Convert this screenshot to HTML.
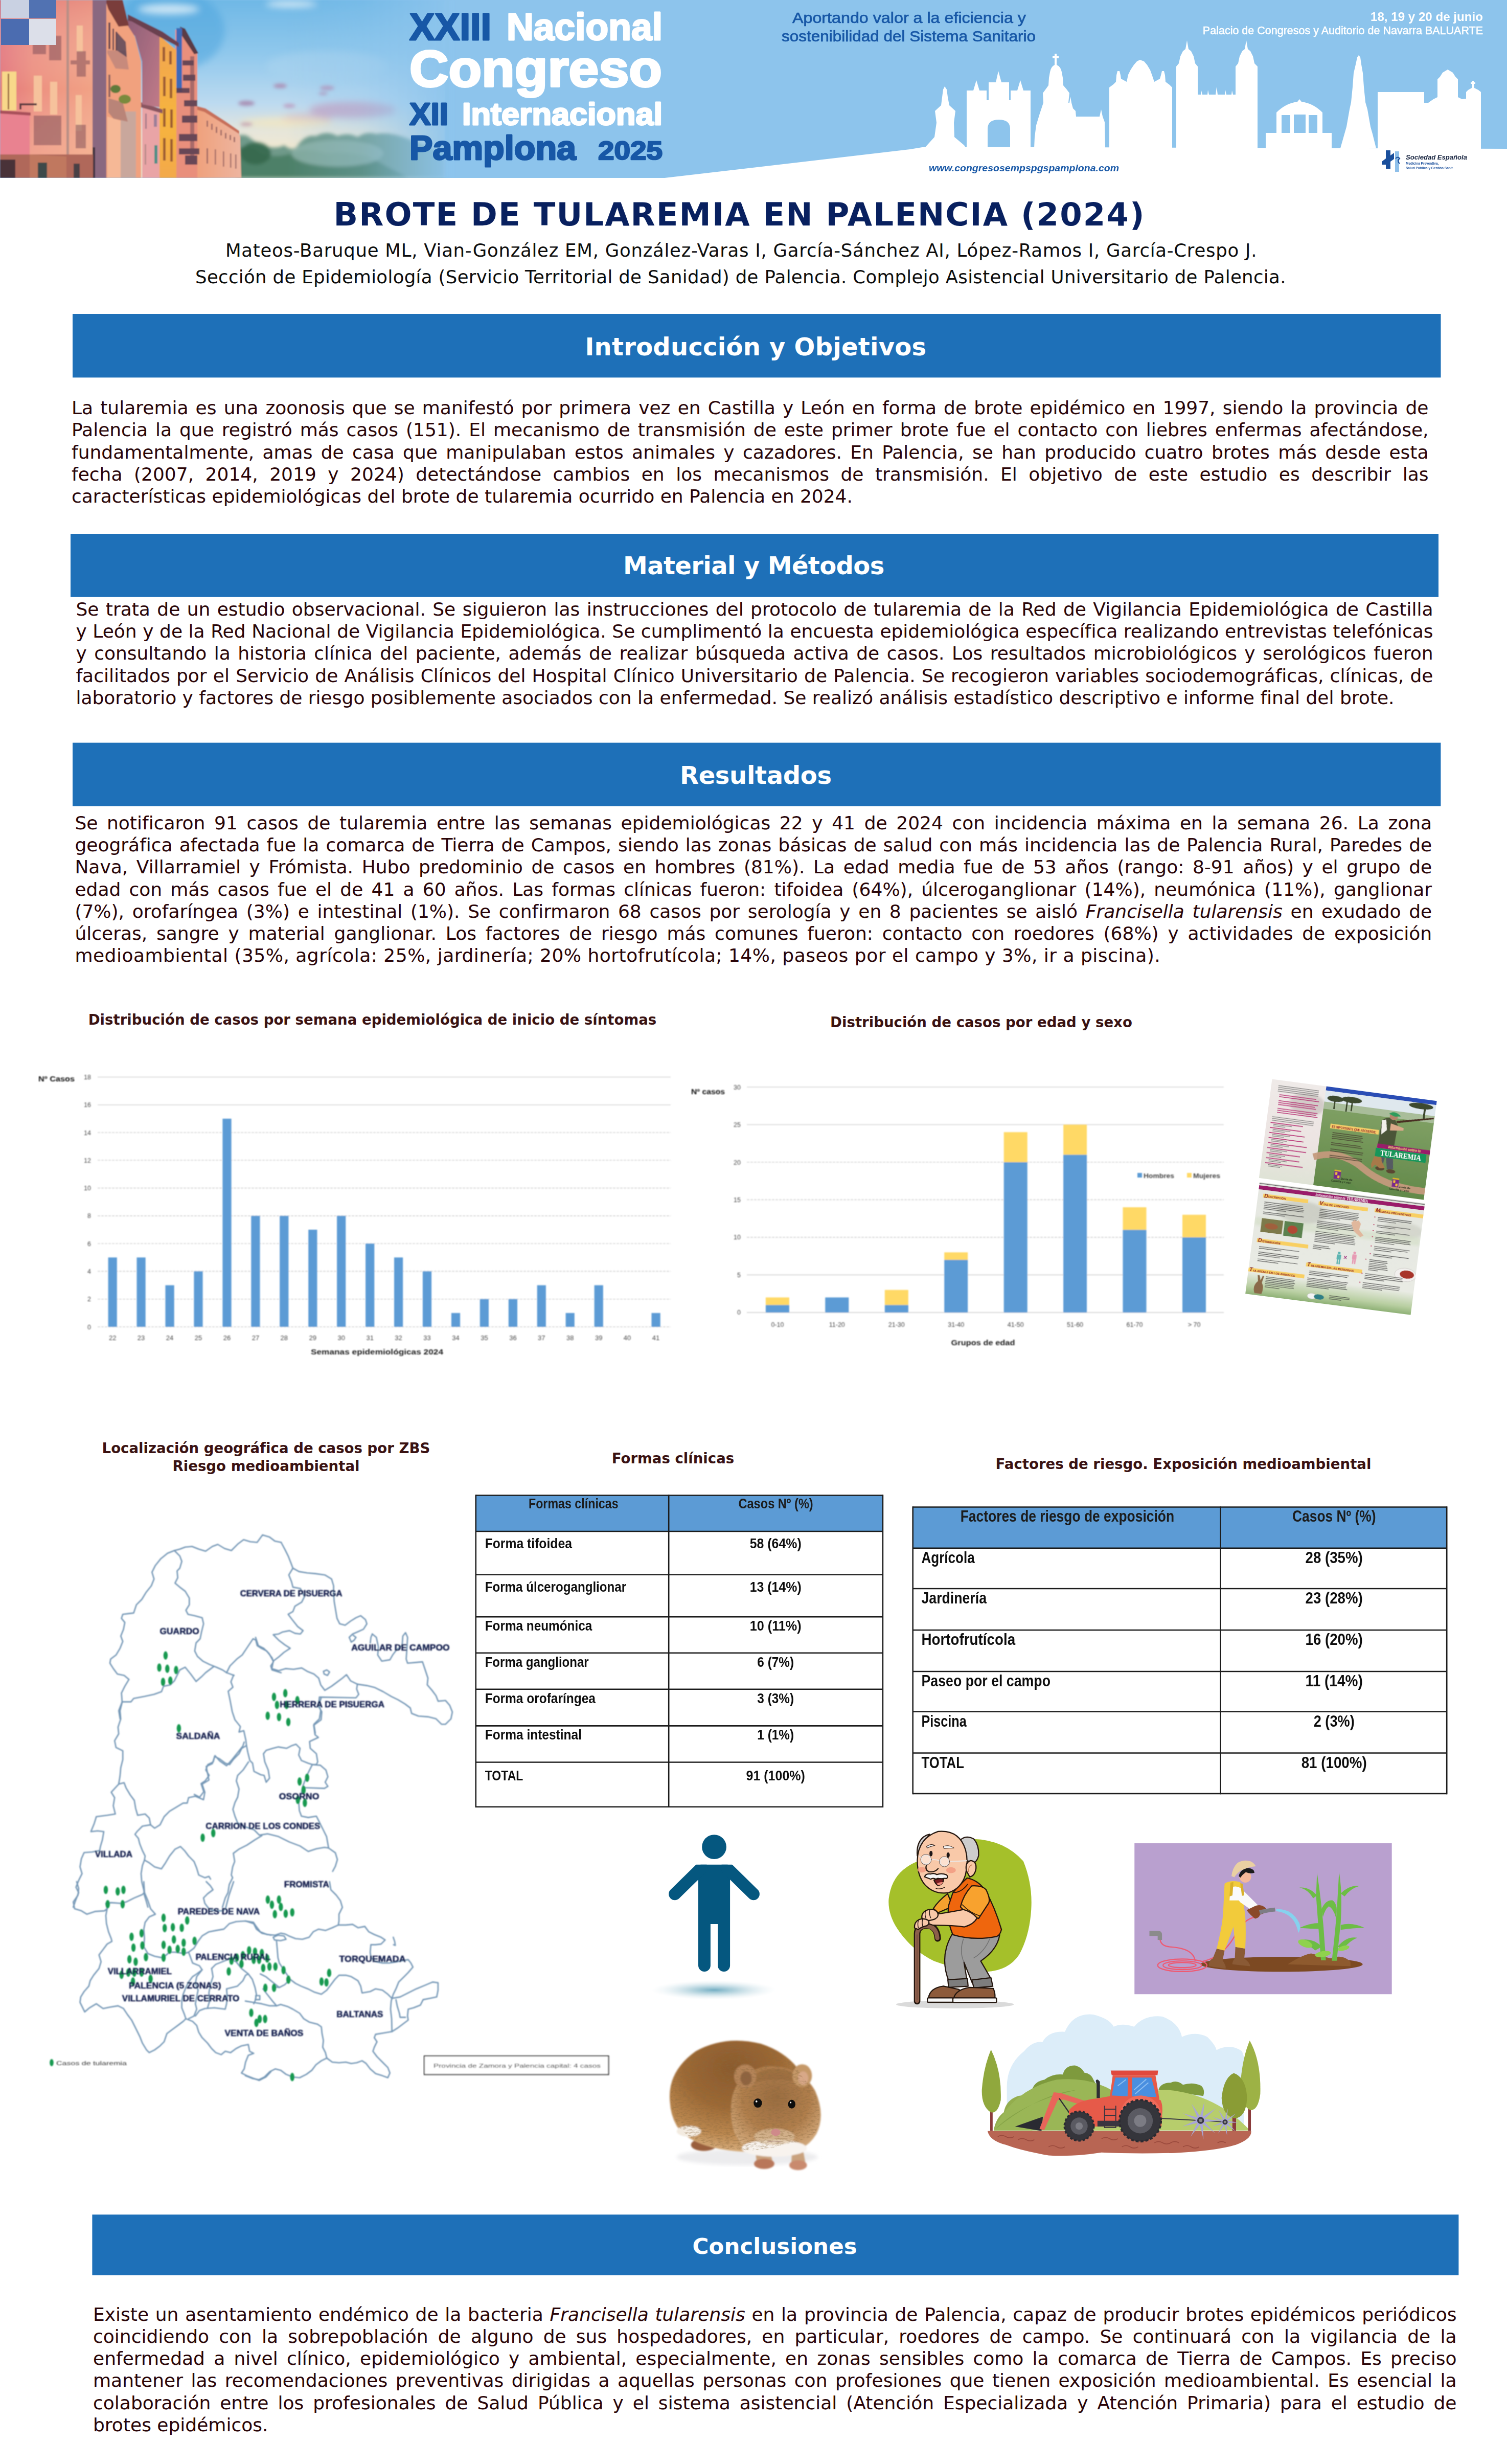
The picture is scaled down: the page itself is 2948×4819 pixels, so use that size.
<!DOCTYPE html><html lang="es"><head><meta charset="utf-8"><title>Brote de tularemia en Palencia (2024)</title><style>
html,body{margin:0;padding:0;background:#fff;}
body{width:2948px;height:4819px;position:relative;overflow:hidden;font-family:"DejaVu Sans","Liberation Sans",sans-serif;color:#2a0508;}
.abs{position:absolute;}
.bar{position:absolute;background:#1e70b8;color:#fff;font-weight:bold;text-align:center;font-size:45px;}
.bar span{position:absolute;left:0;right:0;text-align:center;white-space:nowrap;}
.ln{position:absolute;white-space:nowrap;font-size:36px;line-height:44px;height:44px;text-align:justify;text-align-last:justify;}
.ln.last{text-align:left;text-align-last:left;}
.ct{position:absolute;white-space:nowrap;font-weight:bold;font-size:28px;text-align:center;color:#3a1212;}
</style></head><body>
<svg class="abs" style="left:0;top:0;" width="2948" height="348" viewBox="0 0 2948 348">
<defs>
<linearGradient id="sky" x1="0" y1="0" x2="0" y2="1">
<stop offset="0" stop-color="#6fb8e6"/><stop offset="0.3" stop-color="#90c8ec"/><stop offset="0.58" stop-color="#bcdaf0"/><stop offset="0.74" stop-color="#e6e6dc"/><stop offset="0.86" stop-color="#f3e8cc"/><stop offset="1" stop-color="#e8e4d0"/>
</linearGradient>
<linearGradient id="fade" x1="0" y1="0" x2="1" y2="0">
<stop offset="0" stop-color="#8dc4ec" stop-opacity="0"/><stop offset="0.45" stop-color="#8dc4ec" stop-opacity="0.25"/><stop offset="1" stop-color="#8dc4ec" stop-opacity="1"/>
</linearGradient>
<linearGradient id="b1" x1="0" y1="0" x2="1" y2="0">
<stop offset="0" stop-color="#e2757c"/><stop offset="0.35" stop-color="#ec8f80"/><stop offset="1" stop-color="#f2a285"/>
</linearGradient>
<linearGradient id="b1v" x1="0" y1="0" x2="0" y2="1">
<stop offset="0" stop-color="#d8707c" stop-opacity="0.35"/><stop offset="0.5" stop-color="#fff" stop-opacity="0"/><stop offset="1" stop-color="#fbd0a0" stop-opacity="0.35"/>
</linearGradient>
<linearGradient id="b3" x1="0" y1="0" x2="1" y2="1">
<stop offset="0" stop-color="#8e5e78"/><stop offset="1" stop-color="#c07a88"/>
</linearGradient>
<linearGradient id="b4" x1="0" y1="0" x2="0" y2="1">
<stop offset="0" stop-color="#f2a552"/><stop offset="0.6" stop-color="#f6b43e"/><stop offset="1" stop-color="#f3a94a"/>
</linearGradient>
<linearGradient id="b6" x1="0" y1="0" x2="1" y2="0">
<stop offset="0" stop-color="#f0a07a"/><stop offset="1" stop-color="#eeb5a0"/>
</linearGradient>
<filter id="bl" x="-2%" y="-2%" width="104%" height="104%"><feGaussianBlur stdDeviation="1.1"/></filter>
<filter id="bl6" x="-20%" y="-20%" width="140%" height="140%"><feGaussianBlur stdDeviation="7"/></filter>
<filter id="bl3" x="-20%" y="-20%" width="140%" height="140%"><feGaussianBlur stdDeviation="3"/></filter>
<clipPath id="bclip"><rect x="0" y="0" width="2948" height="348"/></clipPath>
</defs>
<g clip-path="url(#bclip)">
<rect x="0" y="0" width="2948" height="348" fill="#8dc4ec"/>
<!-- photo -->
<g filter="url(#bl)">
<rect x="230" y="0" width="640" height="348" fill="url(#sky)"/>
<ellipse cx="330" cy="60" rx="110" ry="80" fill="#4fa6de" opacity="0.55" filter="url(#bl6)"/>
<!-- clouds -->
<g filter="url(#bl6)">
<ellipse cx="330" cy="18" rx="60" ry="10" fill="#d6ebf7" opacity="0.9"/>
<ellipse cx="570" cy="8" rx="50" ry="6" fill="#e6f2fa" opacity="0.9"/>
<ellipse cx="690" cy="215" rx="85" ry="16" fill="#c4a6c6" opacity="0.85"/>
<ellipse cx="600" cy="232" rx="50" ry="9" fill="#d2b0c4" opacity="0.8"/>
<ellipse cx="560" cy="240" rx="90" ry="10" fill="#f3e6bf" opacity="0.8"/>
<ellipse cx="640" cy="130" rx="120" ry="30" fill="#a9d2ef" opacity="0.6"/>
</g>
<g filter="url(#bl3)">
<ellipse cx="482" cy="202" rx="16" ry="5" fill="#a890b4"/>
<ellipse cx="548" cy="168" rx="13" ry="4.5" fill="#ab93b8"/>
<ellipse cx="640" cy="172" rx="14" ry="4.5" fill="#b39cc0"/>
<ellipse cx="632" cy="183" rx="9" ry="3" fill="#b39cc0"/>
<ellipse cx="566" cy="207" rx="12" ry="4" fill="#bca4c6"/>
<ellipse cx="482" cy="243" rx="12" ry="3.5" fill="#c7a9b4"/>
</g>
<!-- trees -->
<g filter="url(#bl3)">
<path d="M462,348 L462,268 Q478,258 492,272 Q505,282 520,286 Q540,292 556,284 Q570,296 580,288 Q596,262 618,266 Q640,254 660,266 Q680,258 700,268 Q716,256 736,262 Q760,258 790,268 L870,300 L870,348 Z" fill="#6f9a8a"/>
<path d="M462,348 L462,290 Q490,280 510,300 Q540,310 570,300 Q600,288 640,300 Q680,296 720,306 L800,348 Z" fill="#4d8068"/>
<ellipse cx="660" cy="300" rx="90" ry="26" fill="#8fb2a8" opacity="0.8"/>
<ellipse cx="500" cy="300" rx="30" ry="22" fill="#35684c" opacity="0.9"/>
</g>
<rect x="560" y="0" width="330" height="348" fill="url(#fade)"/>
<!-- long low building -->
<path d="M380,208 L400,214 L440,240 L466,258 L470,268 L472,348 L380,348 Z" fill="url(#b6)"/>
<path d="M380,206 L402,212 L442,238 L468,256 L468,262 L440,244 L400,219 L380,213 Z" fill="#c7705a"/>
<g fill="#8b5a5c" opacity="0.75">
<rect x="404" y="236" width="3" height="12"/><rect x="413" y="242" width="3" height="12"/><rect x="422" y="248" width="3" height="12"/><rect x="431" y="254" width="3" height="11"/><rect x="440" y="260" width="3" height="11"/><rect x="449" y="264" width="3" height="10"/><rect x="457" y="268" width="3" height="10"/>
<rect x="404" y="290" width="3" height="30"/><rect x="420" y="292" width="2.5" height="30"/><rect x="436" y="296" width="2.5" height="30"/><rect x="450" y="300" width="2.5" height="28"/><rect x="460" y="302" width="2.5" height="28"/>
</g>
<!-- building 5 (salmon w/ balconies) -->
<path d="M343,58 L360,60 L386,104 L386,348 L343,348 Z" fill="#e98f7c"/>
<path d="M352,52 L362,56 L388,104 L380,106 L356,70 Z" fill="#5a3a44"/>
<rect x="345" y="55" width="11" height="125" fill="#3c6ab8"/>
<g fill="#5b3f52" opacity="0.9">
<rect x="357" y="118" width="22" height="10"/><rect x="358" y="146" width="24" height="12"/><rect x="345" y="172" width="26" height="10"/><rect x="360" y="196" width="26" height="12"/><rect x="356" y="226" width="30" height="14"/><rect x="350" y="262" width="36" height="14"/><rect x="350" y="290" width="40" height="12"/><rect x="362" y="304" width="24" height="18"/>
<rect x="372" y="110" width="8" height="200" opacity="0.5"/>
</g>
<!-- building 4 (yellow) -->
<path d="M312,70 L345,98 L345,348 L312,348 Z" fill="url(#b4)"/>
<g fill="#8a4a30" opacity="0.8">
<rect x="318" y="92" width="5" height="28"/><rect x="331" y="100" width="5" height="26"/>
<rect x="319" y="150" width="5" height="38"/><rect x="332" y="154" width="5" height="38"/>
<rect x="319" y="212" width="5" height="36"/><rect x="333" y="214" width="5" height="36"/>
<rect x="319" y="270" width="5" height="44"/><rect x="333" y="272" width="5" height="44"/>
</g>
<!-- building 3b: pale lower house -->
<path d="M278,205 L312,212 L312,348 L278,348 Z" fill="#e9a4a6"/>
<path d="M276,200 L318,214 L318,222 L276,210 Z" fill="#8a5560"/>
<rect x="301" y="224" width="6" height="24" fill="#9c7f98"/><rect x="284" y="222" width="3" height="30" fill="#a47a8a"/>
<rect x="302" y="284" width="6" height="36" fill="#4e8f86"/><rect x="283" y="282" width="3" height="40" fill="#b98a8a"/>
<!-- building 3 (mauve wall) -->
<path d="M250,30 L262,36 L312,66 L312,210 L278,204 L278,120 L264,70 L250,60 Z" fill="url(#b3)"/>
<path d="M250,28 L318,62 L350,84 L350,92 L312,72 L258,42 L250,40 Z" fill="#6a4050"/>
<!-- building 2 -->
<path d="M208,0 L232,0 L250,50 L264,72 L276,120 L276,348 L208,348 Z" fill="#f1a17e"/>
<path d="M206,0 L240,0 L252,50 L232,52 L212,18 Z" fill="#7a3e3a"/>
<path d="M236,218 L266,218 L266,348 L236,348 Z" fill="#c9a79c"/>
<path d="M210,228 L236,236 L236,348 L210,348 Z" fill="#f6b896"/>
<g fill="#6b4a55">
<rect x="212" y="44" width="4" height="52" /><rect x="220" y="56" width="3" height="42"/><rect x="226" y="62" width="3" height="38"/>
<path d="M210,98 L246,100 L252,136 L226,134 L210,104 Z" fill="#c78a7c"/>
<path d="M228,62 L246,82 L248,112 L228,98 Z" fill="#5a4658" opacity="0.85"/>
<path d="M212,192 L240,200 L250,238 L222,232 L212,220 Z" fill="#b98478"/>
<rect x="212" y="146" width="4" height="44" opacity="0.7"/>
</g>
<ellipse cx="226" cy="174" rx="10" ry="8" fill="#5e7a3a"/><ellipse cx="244" cy="194" rx="12" ry="9" fill="#7a8a3e"/>
<!-- dark strip -->
<rect x="180" y="0" width="28" height="348" fill="#8a6880"/>
<rect x="180" y="288" width="6" height="60" fill="#3e3340"/>
<!-- building 1 -->
<rect x="0" y="0" width="181" height="348" fill="url(#b1)"/>
<rect x="0" y="0" width="181" height="348" fill="url(#b1v)"/>
<rect x="130" y="0" width="5" height="348" fill="#b98f86"/>
<path d="M0,302 L182,302 L182,348 L0,348 Z" fill="#b0685a"/>
<path d="M58,302 L130,306 L130,348 L58,348 Z" fill="#c0785e"/>
<rect x="0" y="312" width="30" height="36" fill="#4a3238"/><rect x="74" y="318" width="18" height="30" fill="#3e4a48"/><rect x="144" y="320" width="12" height="28" fill="#4a4044"/>
<g fill="#f6c29c">
<rect x="66" y="148" width="16" height="70"/><rect x="98" y="160" width="14" height="64"/><rect x="148" y="186" width="12" height="70"/><rect x="150" y="50" width="12" height="52"/>
</g>
<g fill="#7a4a55" opacity="0.5">
<rect x="66" y="226" width="54" height="58"/><rect x="148" y="244" width="20" height="46"/><rect x="64" y="84" width="26" height="22"/><rect x="96" y="70" width="24" height="48"/><rect x="150" y="100" width="18" height="50"/>
<rect x="138" y="118" width="38" height="8"/>
</g>
<rect x="4" y="140" width="28" height="76" fill="#f8d88a"/><rect x="15" y="144" width="3" height="70" fill="#9a6a40"/>
<path d="M0,218 L58,222 L58,302 L0,302 Z" fill="#e98290"/>
<path d="M0,216 L60,220 L60,226 L0,222 Z" fill="#a8505a"/>
<path d="M38,202 L72,202 L72,206 L42,206 L42,214 L38,214 Z" fill="#5a3a40"/>
</g>
<!-- checker -->
<rect x="2" y="0" width="55" height="36" fill="#c9d1e2"/><rect x="57" y="0" width="53" height="36" fill="#5172b2"/>
<rect x="2" y="37" width="55" height="51" fill="#4b6cb0"/><rect x="57" y="37" width="53" height="51" fill="#dcdfe9"/>
<!-- white wedge + skyline -->
<path d="M1300,348 L1780,292 L1810,287 L2948,291 L2948,348 Z" fill="#fff"/>
<g fill="#fff">
<!-- monument 1 -->
<path d="M1808,290 L1828,268 L1832,240 L1829,217 L1841,206 L1843,190 L1845,175 L1848,169 L1852,175 L1854,190 L1857,206 L1869,217 L1866,240 L1867,268 L1886,284 L1890,290 Z"/>
<!-- gate -->
<path d="M1891,290 L1891,177 L1904,177 L1910,157 L1916,177 L1930,177 L1930,196 L1934,196 L1934,161 L1948,161 L1953,139 L1959,161 L1974,161 L1974,196 L1977,196 L1977,177 L1990,177 L1996,157 L2002,177 L2016,177 L2016,290 L1976,290 L1976,252 Q1976,234 1954,234 Q1932,234 1932,252 L1932,290 Z"/>
<!-- church -->
<path d="M2023,290 L2024,268 L2027,245 L2034,222 L2041,201 L2040,182 L2046,174 L2051,167 L2052,152 L2054,141 Q2056,130 2063,127 L2063,114 L2059,114 L2059,110 L2063,110 L2063,105 L2067,105 L2067,110 L2071,110 L2071,114 L2067,114 L2067,127 Q2075,130 2077,141 L2079,152 L2080,167 L2086,174 L2092,182 L2090,201 L2092,201 L2094,189 L2096,201 L2099,212 L2104,217 L2105,228 L2151,228 L2154,214 L2157,228 L2161,239 L2162,290 Z"/>
<!-- facade -->
<path d="M2170,290 L2170,171 L2178,165 L2183,160 L2184,147 L2186,139 L2190,139 L2192,147 L2193,154 L2204,160 L2207,146 L2212,136 L2218,127 L2224,120 L2230,117 L2238,120 L2244,127 L2250,137 L2254,148 L2258,160 L2269,154 L2271,147 L2273,139 L2277,139 L2279,147 L2280,160 L2288,166 L2293,171 L2293,290 Z"/>
<!-- cathedral -->
<path d="M2301,290 L2301,130 L2306,124 L2309,110 L2314,100 L2319,96 L2322,79 L2325,96 L2330,100 L2335,110 L2338,124 L2343,130 L2343,185 L2349,185 L2350,177 L2352,185 L2362,185 L2363,176 L2365,185 L2378,185 L2380,170 L2382,185 L2396,185 L2397,176 L2399,185 L2409,185 L2410,177 L2412,185 L2417,185 L2417,130 L2422,124 L2425,110 L2430,100 L2435,96 L2438,79 L2441,96 L2446,100 L2451,110 L2454,124 L2460,130 L2460,290 Z"/>
<!-- kiosk -->
<path d="M2476,290 L2476,260 L2497,260 L2497,220 Q2515,202 2538,199 L2542,194 L2546,199 Q2569,202 2587,220 L2587,260 L2605,260 L2605,290 Z"/>
<!-- column monument -->
<path d="M2622,290 L2630,262 L2634,248 L2640,214 L2643,200 L2646,170 L2648,143 L2652,126 L2655,112 L2658,108 L2661,112 L2663,126 L2666,143 L2668,170 L2671,200 L2675,214 L2681,248 L2685,262 L2692,290 Z"/>
<!-- right building -->
<path d="M2695,292 L2695,180 L2786,180 L2786,201 L2794,201 L2804,194 L2812,190 L2812,155 L2817,150 L2822,142 L2832,136 L2842,142 L2847,150 L2852,155 L2852,190 L2860,194 L2868,193 L2868,180 L2872,176 L2879,172 L2880,164 L2877,164 L2877,161 L2880,161 L2880,158 L2883,158 L2883,161 L2886,161 L2886,164 L2883,164 L2884,172 L2892,176 L2897,180 L2897,292 Z"/>
</g>
<g fill="#8dc4ec">
<rect x="2507" y="225" width="17" height="35"/><rect x="2531" y="224" width="23" height="36"/><rect x="2560" y="225" width="17" height="35"/>
</g>
<!-- banner text -->
<g font-family="'Liberation Sans',sans-serif" font-weight="bold" stroke-linejoin="round" stroke-linecap="round" paint-order="stroke">
<text x="801" y="78" font-size="75" fill="#1757a6" stroke="#1757a6" stroke-width="3" textLength="160" lengthAdjust="spacingAndGlyphs">XXIII</text>
<text x="991" y="78" font-size="75" fill="#fff" stroke="#fff" stroke-width="3" textLength="305" lengthAdjust="spacingAndGlyphs">Nacional</text>
<text x="801" y="169" font-size="101" fill="#fff" stroke="#fff" stroke-width="4" textLength="494" lengthAdjust="spacingAndGlyphs">Congreso</text>
<text x="801" y="244" font-size="62" fill="#1757a6" stroke="#1757a6" stroke-width="3" textLength="76" lengthAdjust="spacingAndGlyphs">XII</text>
<text x="904" y="244" font-size="62" fill="#fff" stroke="#fff" stroke-width="3" textLength="392" lengthAdjust="spacingAndGlyphs">Internacional</text>
<text x="801" y="312" font-size="66" fill="#1757a6" stroke="#1757a6" stroke-width="3" textLength="326" lengthAdjust="spacingAndGlyphs">Pamplona</text>
<text x="1170" y="312" font-size="50" fill="#1757a6" stroke="#1757a6" stroke-width="2.5" textLength="126" lengthAdjust="spacingAndGlyphs">2025</text>
</g>
<g font-family="'Liberation Sans',sans-serif" fill="#1757a6">
<text x="1550" y="45" font-size="29" stroke="#1757a6" stroke-width="0.7" textLength="457" lengthAdjust="spacingAndGlyphs">Aportando valor a la eficiencia y</text>
<text x="1529" y="81" font-size="29" stroke="#1757a6" stroke-width="0.7" textLength="497" lengthAdjust="spacingAndGlyphs">sostenibilidad del Sistema Sanitario</text>
<text x="1817" y="335" font-size="19" font-weight="bold" font-style="italic" textLength="372" lengthAdjust="spacingAndGlyphs">www.congresosempspgspamplona.com</text>
</g>
<g font-family="'Liberation Sans',sans-serif" fill="#fff" text-anchor="end">
<text x="2901" y="41" font-size="24.5" font-weight="bold" textLength="220" lengthAdjust="spacingAndGlyphs">18, 19 y 20 de junio</text>
<text x="2901" y="67" font-size="21.5" stroke="#fff" stroke-width="0.5">Palacio de Congresos y Auditorio de Navarra BALUARTE</text>
</g>
<!-- SEMPSPGS logo -->
<g>
<path d="M2703,316 l8,-6 l0,-16 l9,0 l0,10 l7,-5 l0,12 l-7,5 l0,14 l-9,0 l0,-8 l-8,0 Z" fill="#1a4f9c"/>
<rect x="2729" y="296" width="8" height="40" fill="#8fc0ea"/>
<path d="M2730,310 q5,-5 8,0 q-6,4 0,10" stroke="#1a4f9c" stroke-width="2.2" fill="none"/>
<text x="2750" y="312" font-family="'Liberation Sans',sans-serif" font-size="12.5" font-weight="bold" font-style="italic" fill="#16233f" textLength="120" lengthAdjust="spacingAndGlyphs">Sociedad Española</text>
<text x="2750" y="322" font-family="'Liberation Sans',sans-serif" font-size="6.5" font-weight="bold" fill="#1a4f9c">Medicina Preventiva,</text>
<text x="2750" y="331" font-family="'Liberation Sans',sans-serif" font-size="6.5" font-weight="bold" fill="#1a4f9c">Salud Pública y Gestión Sanit.</text>
</g>

</g>
</svg>

<div class="abs" style="left:652.5px;top:381.7px;font-size:62.5px;line-height:75.00px;letter-spacing:2.093px;white-space:nowrap;color:#08205f;font-weight:bold;">BROTE DE TULAREMIA EN PALENCIA (2024)</div>
<div class="abs" style="left:441.0px;top:469.4px;font-size:35.5px;line-height:42.60px;letter-spacing:0.739px;white-space:nowrap;color:#0d0d0d;">Mateos-Baruque ML, Vian-González EM, González-Varas I, García-Sánchez AI, López-Ramos I, García-Crespo J.</div>
<div class="abs" style="left:382.0px;top:521.3px;font-size:35.5px;line-height:42.60px;letter-spacing:0.349px;white-space:nowrap;color:#0d0d0d;">Sección de Epidemiología (Servicio Territorial de Sanidad) de Palencia. Complejo Asistencial Universitario de Palencia.</div>
<svg class="abs" style="left:141px;top:613px;" width="2680" height="128"><rect x="1.00" y="1.00" width="2676.5" height="124.4" fill="#1e70b8"/></svg>
<div class="abs" style="left:1144.5px;top:650.1px;font-size:48px;line-height:57.60px;letter-spacing:0.247px;white-space:nowrap;color:#fff;font-weight:bold;">Introducción y Objetivos</div>
<div class="ln" style="left:140px;top:776.0px;width:2654.5px;">La tularemia es una zoonosis que se manifestó por primera vez en Castilla y León en forma de brote epidémico en 1997, siendo la provincia de</div>
<div class="ln" style="left:140px;top:819.4px;width:2654.5px;">Palencia la que registró más casos (151). El mecanismo de transmisión de este primer brote fue el contacto con liebres enfermas afectándose,</div>
<div class="ln" style="left:140px;top:862.7px;width:2654.5px;">fundamentalmente, amas de casa que manipulaban estos animales y cazadores. En Palencia, se han producido cuatro brotes más desde esta</div>
<div class="ln" style="left:140px;top:906.0px;width:2654.5px;">fecha (2007, 2014, 2019 y 2024) detectándose cambios en los mecanismos de transmisión. El objetivo de este estudio es describir las</div>
<div class="ln last" style="left:140px;top:949.4px;width:2654.5px;">características epidemiológicas del brote de tularemia ocurrido en Palencia en 2024.</div>
<svg class="abs" style="left:137px;top:1043px;" width="2680" height="127"><rect x="1.00" y="1.00" width="2676" height="123.6" fill="#1e70b8"/></svg>
<div class="abs" style="left:1219.0px;top:1078.2px;font-size:48px;line-height:57.60px;letter-spacing:-0.600px;white-space:nowrap;color:#fff;font-weight:bold;">Material y Métodos</div>
<div class="ln" style="left:148.4px;top:1169.8px;width:2655.1px;">Se trata de un estudio observacional. Se siguieron las instrucciones del protocolo de tularemia de la Red de Vigilancia Epidemiológica de Castilla</div>
<div class="ln" style="left:148.4px;top:1213.0px;width:2655.1px;letter-spacing:-0.038px;">y León y de la Red Nacional de Vigilancia Epidemiológica. Se cumplimentó la encuesta epidemiológica específica realizando entrevistas telefónicas</div>
<div class="ln" style="left:148.4px;top:1256.3px;width:2655.1px;">y consultando la historia clínica del paciente, además de realizar búsqueda activa de casos. Los resultados microbiológicos y serológicos fueron</div>
<div class="ln" style="left:148.4px;top:1299.7px;width:2655.1px;">facilitados por el Servicio de Análisis Clínicos del Hospital Clínico Universitario de Palencia. Se recogieron variables sociodemográficas, clínicas, de</div>
<div class="ln last" style="left:148.4px;top:1343.0px;width:2655.1px;">laboratorio y factores de riesgo posiblemente asociados con la enfermedad. Se realizó análisis estadístico descriptivo e informe final del brote.</div>
<svg class="abs" style="left:141px;top:1451px;" width="2680" height="128"><rect x="1.00" y="1.60" width="2676.4" height="124" fill="#1e70b8"/></svg>
<div class="abs" style="left:1330.0px;top:1487.5px;font-size:48px;line-height:57.60px;letter-spacing:-0.329px;white-space:nowrap;color:#fff;font-weight:bold;">Resultados</div>
<div class="ln" style="left:146.4px;top:1587.7px;width:2654.7999999999997px;">Se notificaron 91 casos de tularemia entre las semanas epidemiológicas 22 y 41 de 2024 con incidencia máxima en la semana 26. La zona</div>
<div class="ln" style="left:146.4px;top:1631.0px;width:2654.7999999999997px;">geográfica afectada fue la comarca de Tierra de Campos, siendo las zonas básicas de salud con más incidencia las de Palencia Rural, Paredes de</div>
<div class="ln" style="left:146.4px;top:1674.2px;width:2654.7999999999997px;">Nava, Villarramiel y Frómista. Hubo predominio de casos en hombres (81%). La edad media fue de 53 años (rango: 8-91 años) y el grupo de</div>
<div class="ln" style="left:146.4px;top:1717.5px;width:2654.7999999999997px;">edad con más casos fue el de 41 a 60 años. Las formas clínicas fueron: tifoidea (64%), úlceroganglionar (14%), neumónica (11%), ganglionar</div>
<div class="ln" style="left:146.4px;top:1760.7px;width:2654.7999999999997px;">(7%), orofaríngea (3%) e intestinal (1%). Se confirmaron 68 casos por serología y en 8 pacientes se aisló <i>Francisella tularensis</i> en exudado de</div>
<div class="ln" style="left:146.4px;top:1804.0px;width:2654.7999999999997px;">úlceras, sangre y material ganglionar. Los factores de riesgo más comunes fueron: contacto con roedores (68%) y actividades de exposición</div>
<div class="ln last" style="left:146.4px;top:1847.2px;width:2654.7999999999997px;"><span style="letter-spacing:0.49px">medioambiental (35%, agrícola: 25%, jardinería; 20% hortofrutícola; 14%, paseos por el campo y 3%, ir a piscina).</span></div>
<div class="ct" style="left:172px;top:1975.4px;width:1113px;font-size:27.6px;line-height:40px;">Distribución de casos por semana epidemiológica de inicio de síntomas</div>
<div class="ct" style="left:1624px;top:1980.4px;width:591px;font-size:27.6px;line-height:40px;">Distribución de casos por edad y sexo</div>
<svg class="abs" style="left:40px;top:2060px;" width="1300" height="620" viewBox="40 2060 1300 620">
<defs><filter id="cb" x="-1%" y="-1%" width="102%" height="102%"><feGaussianBlur stdDeviation="0.9"/></filter></defs>
<g filter="url(#cb)">
<line x1="191" y1="2595.0" x2="1312" y2="2595.0" stroke="#d4d4d4" stroke-width="1.6" stroke-dasharray="5 2"/>
<text x="178" y="2599.5" text-anchor="end" font-size="12.5" fill="#484848" style="font-family:'Liberation Sans',sans-serif;">0</text>
<line x1="191" y1="2540.7" x2="1312" y2="2540.7" stroke="#d4d4d4" stroke-width="1.6" stroke-dasharray="5 2"/>
<text x="178" y="2545.2" text-anchor="end" font-size="12.5" fill="#484848" style="font-family:'Liberation Sans',sans-serif;">2</text>
<line x1="191" y1="2486.4" x2="1312" y2="2486.4" stroke="#d4d4d4" stroke-width="1.6" stroke-dasharray="5 2"/>
<text x="178" y="2490.9" text-anchor="end" font-size="12.5" fill="#484848" style="font-family:'Liberation Sans',sans-serif;">4</text>
<line x1="191" y1="2432.2" x2="1312" y2="2432.2" stroke="#d4d4d4" stroke-width="1.6" stroke-dasharray="5 2"/>
<text x="178" y="2436.7" text-anchor="end" font-size="12.5" fill="#484848" style="font-family:'Liberation Sans',sans-serif;">6</text>
<line x1="191" y1="2377.9" x2="1312" y2="2377.9" stroke="#d4d4d4" stroke-width="1.6" stroke-dasharray="5 2"/>
<text x="178" y="2382.4" text-anchor="end" font-size="12.5" fill="#484848" style="font-family:'Liberation Sans',sans-serif;">8</text>
<line x1="191" y1="2323.6" x2="1312" y2="2323.6" stroke="#d4d4d4" stroke-width="1.6" stroke-dasharray="5 2"/>
<text x="178" y="2328.1" text-anchor="end" font-size="12.5" fill="#484848" style="font-family:'Liberation Sans',sans-serif;">10</text>
<line x1="191" y1="2269.3" x2="1312" y2="2269.3" stroke="#d4d4d4" stroke-width="1.6" stroke-dasharray="5 2"/>
<text x="178" y="2273.8" text-anchor="end" font-size="12.5" fill="#484848" style="font-family:'Liberation Sans',sans-serif;">12</text>
<line x1="191" y1="2215.0" x2="1312" y2="2215.0" stroke="#d4d4d4" stroke-width="1.6" stroke-dasharray="5 2"/>
<text x="178" y="2219.5" text-anchor="end" font-size="12.5" fill="#484848" style="font-family:'Liberation Sans',sans-serif;">14</text>
<line x1="191" y1="2160.8" x2="1312" y2="2160.8" stroke="#d4d4d4" stroke-width="1.6" />
<text x="178" y="2165.3" text-anchor="end" font-size="12.5" fill="#484848" style="font-family:'Liberation Sans',sans-serif;">16</text>
<line x1="191" y1="2106.5" x2="1312" y2="2106.5" stroke="#d4d4d4" stroke-width="1.6" />
<text x="178" y="2111.0" text-anchor="end" font-size="12.5" fill="#484848" style="font-family:'Liberation Sans',sans-serif;">18</text>
<rect x="211.6" y="2459.3" width="17.2" height="135.7" fill="#5b9bd5"/>
<text x="220.2" y="2621" text-anchor="middle" font-size="13" fill="#484848" style="font-family:'Liberation Sans',sans-serif;">22</text>
<rect x="267.5" y="2459.3" width="17.2" height="135.7" fill="#5b9bd5"/>
<text x="276.1" y="2621" text-anchor="middle" font-size="13" fill="#484848" style="font-family:'Liberation Sans',sans-serif;">23</text>
<rect x="323.5" y="2513.6" width="17.2" height="81.4" fill="#5b9bd5"/>
<text x="332.1" y="2621" text-anchor="middle" font-size="13" fill="#484848" style="font-family:'Liberation Sans',sans-serif;">24</text>
<rect x="379.4" y="2486.4" width="17.2" height="108.6" fill="#5b9bd5"/>
<text x="388.0" y="2621" text-anchor="middle" font-size="13" fill="#484848" style="font-family:'Liberation Sans',sans-serif;">25</text>
<rect x="435.4" y="2187.9" width="17.2" height="407.1" fill="#5b9bd5"/>
<text x="444.0" y="2621" text-anchor="middle" font-size="13" fill="#484848" style="font-family:'Liberation Sans',sans-serif;">26</text>
<rect x="491.3" y="2377.9" width="17.2" height="217.1" fill="#5b9bd5"/>
<text x="499.9" y="2621" text-anchor="middle" font-size="13" fill="#484848" style="font-family:'Liberation Sans',sans-serif;">27</text>
<rect x="547.2" y="2377.9" width="17.2" height="217.1" fill="#5b9bd5"/>
<text x="555.8" y="2621" text-anchor="middle" font-size="13" fill="#484848" style="font-family:'Liberation Sans',sans-serif;">28</text>
<rect x="603.2" y="2405.0" width="17.2" height="190.0" fill="#5b9bd5"/>
<text x="611.8" y="2621" text-anchor="middle" font-size="13" fill="#484848" style="font-family:'Liberation Sans',sans-serif;">29</text>
<rect x="659.1" y="2377.9" width="17.2" height="217.1" fill="#5b9bd5"/>
<text x="667.7" y="2621" text-anchor="middle" font-size="13" fill="#484848" style="font-family:'Liberation Sans',sans-serif;">30</text>
<rect x="715.1" y="2432.2" width="17.2" height="162.8" fill="#5b9bd5"/>
<text x="723.7" y="2621" text-anchor="middle" font-size="13" fill="#484848" style="font-family:'Liberation Sans',sans-serif;">31</text>
<rect x="771.0" y="2459.3" width="17.2" height="135.7" fill="#5b9bd5"/>
<text x="779.6" y="2621" text-anchor="middle" font-size="13" fill="#484848" style="font-family:'Liberation Sans',sans-serif;">32</text>
<rect x="826.9" y="2486.4" width="17.2" height="108.6" fill="#5b9bd5"/>
<text x="835.5" y="2621" text-anchor="middle" font-size="13" fill="#484848" style="font-family:'Liberation Sans',sans-serif;">33</text>
<rect x="882.9" y="2567.9" width="17.2" height="27.1" fill="#5b9bd5"/>
<text x="891.5" y="2621" text-anchor="middle" font-size="13" fill="#484848" style="font-family:'Liberation Sans',sans-serif;">34</text>
<rect x="938.8" y="2540.7" width="17.2" height="54.3" fill="#5b9bd5"/>
<text x="947.4" y="2621" text-anchor="middle" font-size="13" fill="#484848" style="font-family:'Liberation Sans',sans-serif;">35</text>
<rect x="994.8" y="2540.7" width="17.2" height="54.3" fill="#5b9bd5"/>
<text x="1003.4" y="2621" text-anchor="middle" font-size="13" fill="#484848" style="font-family:'Liberation Sans',sans-serif;">36</text>
<rect x="1050.7" y="2513.6" width="17.2" height="81.4" fill="#5b9bd5"/>
<text x="1059.3" y="2621" text-anchor="middle" font-size="13" fill="#484848" style="font-family:'Liberation Sans',sans-serif;">37</text>
<rect x="1106.6" y="2567.9" width="17.2" height="27.1" fill="#5b9bd5"/>
<text x="1115.2" y="2621" text-anchor="middle" font-size="13" fill="#484848" style="font-family:'Liberation Sans',sans-serif;">38</text>
<rect x="1162.6" y="2513.6" width="17.2" height="81.4" fill="#5b9bd5"/>
<text x="1171.2" y="2621" text-anchor="middle" font-size="13" fill="#484848" style="font-family:'Liberation Sans',sans-serif;">39</text>
<text x="1227.1" y="2621" text-anchor="middle" font-size="13" fill="#484848" style="font-family:'Liberation Sans',sans-serif;">40</text>
<rect x="1274.5" y="2567.9" width="17.2" height="27.1" fill="#5b9bd5"/>
<text x="1283.1" y="2621" text-anchor="middle" font-size="13" fill="#484848" style="font-family:'Liberation Sans',sans-serif;">41</text>
<text x="75" y="2115" font-size="14.5" font-weight="bold" fill="#111" style="font-family:'Liberation Sans',sans-serif;" textLength="71" lengthAdjust="spacingAndGlyphs">Nº Casos</text>
<text x="737.5" y="2649" text-anchor="middle" font-size="15" font-weight="bold" fill="#222" style="font-family:'Liberation Sans',sans-serif;" textLength="259" lengthAdjust="spacingAndGlyphs">Semanas epidemiológicas 2024</text>
</g></svg>
<svg class="abs" style="left:1330px;top:2080px;" width="1100" height="600" viewBox="1330 2080 1100 600">
<g filter="url(#cb)">
<line x1="1461" y1="2566.9" x2="2394" y2="2566.9" stroke="#d4d4d4" stroke-width="1.6" />
<text x="1449" y="2571.4" text-anchor="end" font-size="12.5" fill="#484848" style="font-family:'Liberation Sans',sans-serif;">0</text>
<line x1="1461" y1="2493.4" x2="2394" y2="2493.4" stroke="#d4d4d4" stroke-width="1.6" />
<text x="1449" y="2497.9" text-anchor="end" font-size="12.5" fill="#484848" style="font-family:'Liberation Sans',sans-serif;">5</text>
<line x1="1461" y1="2419.9" x2="2394" y2="2419.9" stroke="#d4d4d4" stroke-width="1.6" stroke-dasharray="5 2"/>
<text x="1449" y="2424.4" text-anchor="end" font-size="12.5" fill="#484848" style="font-family:'Liberation Sans',sans-serif;">10</text>
<line x1="1461" y1="2346.4" x2="2394" y2="2346.4" stroke="#d4d4d4" stroke-width="1.6" stroke-dasharray="5 2"/>
<text x="1449" y="2350.9" text-anchor="end" font-size="12.5" fill="#484848" style="font-family:'Liberation Sans',sans-serif;">15</text>
<line x1="1461" y1="2273.0" x2="2394" y2="2273.0" stroke="#d4d4d4" stroke-width="1.6" stroke-dasharray="5 2"/>
<text x="1449" y="2277.5" text-anchor="end" font-size="12.5" fill="#484848" style="font-family:'Liberation Sans',sans-serif;">20</text>
<line x1="1461" y1="2199.5" x2="2394" y2="2199.5" stroke="#d4d4d4" stroke-width="1.6" />
<text x="1449" y="2204.0" text-anchor="end" font-size="12.5" fill="#484848" style="font-family:'Liberation Sans',sans-serif;">25</text>
<line x1="1461" y1="2126.0" x2="2394" y2="2126.0" stroke="#d4d4d4" stroke-width="1.6" />
<text x="1449" y="2130.5" text-anchor="end" font-size="12.5" fill="#484848" style="font-family:'Liberation Sans',sans-serif;">30</text>
<rect x="1497.9" y="2552.2" width="46" height="14.7" fill="#5b9bd5"/>
<rect x="1497.9" y="2537.5" width="46" height="14.7" fill="#ffd966"/>
<text x="1520.9" y="2595" text-anchor="middle" font-size="12.5" fill="#484848" style="font-family:'Liberation Sans',sans-serif;">0-10</text>
<rect x="1614.3" y="2537.5" width="46" height="29.4" fill="#5b9bd5"/>
<text x="1637.3" y="2595" text-anchor="middle" font-size="12.5" fill="#484848" style="font-family:'Liberation Sans',sans-serif;">11-20</text>
<rect x="1730.8" y="2552.2" width="46" height="14.7" fill="#5b9bd5"/>
<rect x="1730.8" y="2522.8" width="46" height="29.4" fill="#ffd966"/>
<text x="1753.8" y="2595" text-anchor="middle" font-size="12.5" fill="#484848" style="font-family:'Liberation Sans',sans-serif;">21-30</text>
<rect x="1847.2" y="2464.0" width="46" height="102.9" fill="#5b9bd5"/>
<rect x="1847.2" y="2449.3" width="46" height="14.7" fill="#ffd966"/>
<text x="1870.2" y="2595" text-anchor="middle" font-size="12.5" fill="#484848" style="font-family:'Liberation Sans',sans-serif;">31-40</text>
<rect x="1963.7" y="2273.0" width="46" height="293.9" fill="#5b9bd5"/>
<rect x="1963.7" y="2214.2" width="46" height="58.8" fill="#ffd966"/>
<text x="1986.7" y="2595" text-anchor="middle" font-size="12.5" fill="#484848" style="font-family:'Liberation Sans',sans-serif;">41-50</text>
<rect x="2080.1" y="2258.3" width="46" height="308.6" fill="#5b9bd5"/>
<rect x="2080.1" y="2199.5" width="46" height="58.8" fill="#ffd966"/>
<text x="2103.1" y="2595" text-anchor="middle" font-size="12.5" fill="#484848" style="font-family:'Liberation Sans',sans-serif;">51-60</text>
<rect x="2196.5" y="2405.2" width="46" height="161.7" fill="#5b9bd5"/>
<rect x="2196.5" y="2361.1" width="46" height="44.1" fill="#ffd966"/>
<text x="2219.5" y="2595" text-anchor="middle" font-size="12.5" fill="#484848" style="font-family:'Liberation Sans',sans-serif;">61-70</text>
<rect x="2313.0" y="2419.9" width="46" height="147.0" fill="#5b9bd5"/>
<rect x="2313.0" y="2375.8" width="46" height="44.1" fill="#ffd966"/>
<text x="2336.0" y="2595" text-anchor="middle" font-size="12.5" fill="#484848" style="font-family:'Liberation Sans',sans-serif;">&gt; 70</text>
<text x="1352" y="2140" font-size="14" font-weight="bold" fill="#111" style="font-family:'Liberation Sans',sans-serif;" textLength="66" lengthAdjust="spacingAndGlyphs">Nº casos</text>
<text x="1923" y="2631" text-anchor="middle" font-size="15" font-weight="bold" fill="#222" style="font-family:'Liberation Sans',sans-serif;" textLength="125" lengthAdjust="spacingAndGlyphs">Grupos de edad</text>
<rect x="2225" y="2294" width="9" height="9" fill="#5b9bd5"/>
<text x="2237" y="2303.5" font-size="12.5" font-weight="bold" fill="#444" style="font-family:'Liberation Sans',sans-serif;" textLength="60" lengthAdjust="spacingAndGlyphs">Hombres</text>
<rect x="2322" y="2294" width="9" height="9" fill="#ffd966"/>
<text x="2334" y="2303.5" font-size="12.5" font-weight="bold" fill="#444" style="font-family:'Liberation Sans',sans-serif;" textLength="53" lengthAdjust="spacingAndGlyphs">Mujeres</text>
</g></svg>
<svg class="abs" style="left:2400px;top:2080px;" width="460" height="520" viewBox="2400 2080 460 520">
<defs>
<filter id="bb" x="-2%" y="-2%" width="104%" height="104%"><feGaussianBlur stdDeviation="0.45"/></filter>
<filter id="bb3" x="-20%" y="-20%" width="140%" height="140%"><feGaussianBlur stdDeviation="2.5"/></filter>
<linearGradient id="grass" x1="0" y1="0" x2="0" y2="1"><stop offset="0" stop-color="#86a56a"/><stop offset="1" stop-color="#63894a"/></linearGradient>
<linearGradient id="sheet2" x1="0" y1="0" x2="0" y2="1"><stop offset="0" stop-color="#e4e6e0"/><stop offset="0.8" stop-color="#e9ebe4"/><stop offset="0.93" stop-color="#b9cfa2"/><stop offset="1" stop-color="#8fb176"/></linearGradient>
<linearGradient id="col1" x1="0" y1="0" x2="0" y2="1"><stop offset="0" stop-color="#efeae8"/><stop offset="0.6" stop-color="#ece4e2"/><stop offset="1" stop-color="#dfe3d6"/></linearGradient>
<clipPath id="c1"><rect x="0" y="0" width="325" height="195"/></clipPath>
<clipPath id="c2"><rect x="0" y="0" width="326" height="220"/></clipPath>
</defs>
<g transform="translate(2488.5,2110.5) rotate(7.56)" filter="url(#bb)"><g clip-path="url(#c1)">
<rect x="0" y="0" width="325" height="195" fill="url(#col1)"/>
<ellipse cx="75" cy="40" rx="35" ry="22" fill="#b8b0ac" opacity="0.5" filter="url(#bb3)"/>
<rect x="107" y="0" width="218" height="195" fill="url(#grass)"/>
<rect x="107" y="0" width="218" height="42" fill="#dfe8ee"/>
<rect x="107" y="0" width="218" height="8" fill="#2a4db5"/>
<rect x="107" y="30" width="218" height="14" fill="#a9bd9a"/>
<g fill="#3c4a2e"><ellipse cx="128" cy="22" rx="16" ry="6"/><ellipse cx="160" cy="20" rx="20" ry="6"/><rect x="126" y="22" width="3" height="20"/><rect x="150" y="22" width="3" height="22"/><rect x="160" y="22" width="3" height="20"/><ellipse cx="296" cy="14" rx="24" ry="6"/><rect x="302" y="16" width="4" height="22"/></g>
<path d="M100,140 Q150,118 200,150 T330,178" stroke="#c49a7c" stroke-width="13" fill="none" opacity="0.95"/>
<path d="M107,190 L170,175 L200,195 Z" fill="#5f8a48" opacity="0.6"/>
<g>
<rect x="14" y="10" width="80" height="1.6" fill="#6a6a6a" opacity="0.7"/>
<rect x="14" y="13.6" width="80" height="1.6" fill="#6a6a6a" opacity="0.7"/>
<rect x="14" y="17.2" width="80" height="1.6" fill="#6a6a6a" opacity="0.7"/>
<rect x="14" y="20.8" width="80" height="1.6" fill="#6a6a6a" opacity="0.7"/>
<rect x="18" y="27.400000000000002" width="73" height="1.8" fill="#b5226e" opacity="0.8"/>
<rect x="18" y="31.200000000000003" width="79" height="1.8" fill="#b5226e" opacity="0.8"/>
<rect x="18" y="39.0" width="78" height="1.8" fill="#b5226e" opacity="0.8"/>
<rect x="18" y="42.8" width="72" height="1.8" fill="#b5226e" opacity="0.8"/>
<rect x="18" y="46.599999999999994" width="75" height="1.8" fill="#b5226e" opacity="0.8"/>
<rect x="18" y="54.39999999999999" width="79" height="1.8" fill="#b5226e" opacity="0.8"/>
<rect x="18" y="58.19999999999999" width="77" height="1.8" fill="#b5226e" opacity="0.8"/>
<rect x="18" y="61.999999999999986" width="80" height="1.8" fill="#b5226e" opacity="0.8"/>
<rect x="10" y="71.79999999999998" width="82" height="1.5" fill="#6a6a6a" opacity="0.7"/>
<rect x="10" y="75.29999999999998" width="82" height="1.5" fill="#6a6a6a" opacity="0.7"/>
<rect x="10" y="78.79999999999998" width="82" height="1.5" fill="#6a6a6a" opacity="0.7"/>
<rect x="8" y="83.29999999999998" width="64" height="1.9" fill="#b5226e" opacity="0.85"/>
<rect x="14" y="86.69999999999999" width="37" height="1.3" fill="#555" opacity="0.7"/>
<rect x="14" y="89.6" width="24" height="1.3" fill="#555" opacity="0.7"/>
<rect x="8" y="93.19999999999999" width="62" height="1.9" fill="#b5226e" opacity="0.85"/>
<rect x="14" y="96.6" width="35" height="1.3" fill="#555" opacity="0.7"/>
<rect x="14" y="99.5" width="24" height="1.3" fill="#555" opacity="0.7"/>
<rect x="8" y="103.1" width="70" height="1.9" fill="#b5226e" opacity="0.85"/>
<rect x="14" y="106.5" width="36" height="1.3" fill="#555" opacity="0.7"/>
<rect x="14" y="109.4" width="24" height="1.3" fill="#555" opacity="0.7"/>
<rect x="8" y="113.0" width="69" height="1.9" fill="#b5226e" opacity="0.85"/>
<rect x="14" y="116.4" width="31" height="1.3" fill="#555" opacity="0.7"/>
<rect x="14" y="119.30000000000001" width="24" height="1.3" fill="#555" opacity="0.7"/>
<rect x="8" y="122.9" width="77" height="1.9" fill="#b5226e" opacity="0.85"/>
<rect x="14" y="126.30000000000001" width="36" height="1.3" fill="#555" opacity="0.7"/>
<rect x="14" y="129.20000000000002" width="24" height="1.3" fill="#555" opacity="0.7"/>
<rect x="8" y="132.8" width="77" height="1.9" fill="#b5226e" opacity="0.85"/>
<rect x="14" y="136.20000000000002" width="34" height="1.3" fill="#555" opacity="0.7"/>
<rect x="14" y="139.10000000000002" width="24" height="1.3" fill="#555" opacity="0.7"/>
<rect x="8" y="142.70000000000002" width="66" height="1.9" fill="#b5226e" opacity="0.85"/>
<rect x="14" y="146.10000000000002" width="31" height="1.3" fill="#555" opacity="0.7"/>
<rect x="14" y="149.00000000000003" width="24" height="1.3" fill="#555" opacity="0.7"/>
<rect x="8" y="152.60000000000002" width="66" height="1.9" fill="#b5226e" opacity="0.85"/>
<rect x="14" y="156.00000000000003" width="36" height="1.3" fill="#555" opacity="0.7"/>
<rect x="14" y="158.90000000000003" width="24" height="1.3" fill="#555" opacity="0.7"/>
<rect x="8" y="162.50000000000003" width="74" height="1.9" fill="#b5226e" opacity="0.85"/>
<rect x="14" y="165.90000000000003" width="28" height="1.3" fill="#555" opacity="0.7"/>
<rect x="14" y="168.80000000000004" width="24" height="1.3" fill="#555" opacity="0.7"/>
</g>
<rect x="124.9" y="71.2" width="95.8" height="9" fill="#f7cf6a"/>
<text x="127.9" y="78.7" font-size="7" font-weight="bold" fill="#8a1a2a" style="font-family:'Liberation Sans',sans-serif;" textLength="87.8" lengthAdjust="spacingAndGlyphs">ES IMPORTANTE QUE RECUERDE:</text>
<rect x="130.9" y="87.2" width="59" height="1.7" fill="#4a4232" opacity="0.8"/>
<rect x="130.9" y="90.9" width="60" height="1.7" fill="#4a4232" opacity="0.8"/>
<rect x="130.9" y="94.6" width="58" height="1.7" fill="#4a4232" opacity="0.8"/>
<rect x="130.9" y="98.3" width="62" height="1.7" fill="#4a4232" opacity="0.8"/>
<rect x="130.9" y="107.0" width="58" height="1.7" fill="#4a4232" opacity="0.8"/>
<rect x="130.9" y="110.7" width="62" height="1.7" fill="#4a4232" opacity="0.8"/>
<rect x="130.9" y="119.4" width="65" height="1.7" fill="#4a4232" opacity="0.8"/>
<rect x="130.9" y="123.1" width="64" height="1.7" fill="#4a4232" opacity="0.8"/>
<rect x="130.9" y="131.8" width="64" height="1.7" fill="#4a4232" opacity="0.8"/>
<rect x="130.9" y="135.5" width="64" height="1.7" fill="#4a4232" opacity="0.8"/>
<g transform="translate(237.7,39.3)">
<path d="M-14,12 Q-4,2 10,6 L18,18 L16,62 L-16,60 Z" fill="#4c5439"/>
<path d="M-14,12 L-6,10 L-2,30 L-12,40 Z" fill="#f2f0ea"/>
<path d="M4,16 L30,22 L30,27 L4,30 Z" fill="#d9a98a"/>
<ellipse cx="8" cy="2" rx="8" ry="7" fill="#b5836a"/>
<path d="M-2,-2 Q8,-12 22,0 L10,2 Z" fill="#2f9c5c"/>
<path d="M14,10 L86,-6 L86,-3 L16,14 Z" fill="#4a2e22"/>
<path d="M-8,58 L14,60 L20,104 L8,106 L2,78 L-2,104 L-12,102 Z" fill="#555a62"/>
<ellipse cx="-6" cy="106" rx="9" ry="4" fill="#5a4630"/><ellipse cx="16" cy="109" rx="9" ry="4" fill="#5a4630"/>
<path d="M-16,70 Q-6,76 -4,92 L4,104 L-6,106 L-16,100 L-22,108 L-24,100 Z" fill="#a8794a"/>
</g>
<rect x="220.8" y="97.6" width="104.2" height="8.5" fill="#9a1a6a"/>
<text x="242.8" y="104.4" font-size="6.5" font-style="italic" font-weight="bold" fill="#f5d978" style="font-family:'Liberation Sans',sans-serif;">Información sobre la</text>
<rect x="218.8" y="106.1" width="100.2" height="17" fill="#12965a"/>
<text x="228.8" y="120.1" font-size="15.5" font-weight="bold" fill="#fff" style="font-family:'Liberation Serif',serif;" textLength="80.2" lengthAdjust="spacingAndGlyphs">TULAREMIA</text>
<rect x="144.6" y="161.9" width="13" height="15" fill="#7a2a8a"/><rect x="146.6" y="163.9" width="4" height="5" fill="#f2c230"/><rect x="151.6" y="169.9" width="4" height="5" fill="#f2c230"/><rect x="144.6" y="159.4" width="13" height="2.5" fill="#e8b820"/>
<text x="158.6" y="176.9" font-size="5.6" font-weight="bold" fill="#22301c" style="font-family:'Liberation Sans',sans-serif;">Junta de</text>
<text x="140.6" y="182.9" font-size="5.6" font-weight="bold" fill="#22301c" style="font-family:'Liberation Sans',sans-serif;">Castilla y León</text>
<rect x="259.3" y="162.7" width="13" height="15" fill="#7a2a8a"/><rect x="261.3" y="164.7" width="4" height="5" fill="#f2c230"/><rect x="266.3" y="170.7" width="4" height="5" fill="#f2c230"/><rect x="259.3" y="160.2" width="13" height="2.5" fill="#e8b820"/>
<text x="273.3" y="177.7" font-size="5.6" font-weight="bold" fill="#22301c" style="font-family:'Liberation Sans',sans-serif;">Junta de</text>
<text x="255.3" y="183.7" font-size="5.6" font-weight="bold" fill="#22301c" style="font-family:'Liberation Sans',sans-serif;">Castilla y León</text>
</g></g>
<g transform="translate(2464.1,2312.0) rotate(7.3)" filter="url(#bb)"><g clip-path="url(#c2)">
<rect x="0" y="0" width="326" height="220" fill="url(#sheet2)"/>
<rect x="0" y="1.5" width="326" height="1.6" fill="#666"/>
<rect x="0" y="6" width="326" height="8" fill="#9a1a6a"/>
<text x="112" y="12.6" font-size="6.6" font-style="italic" font-weight="bold" fill="#f4e6f0" style="font-family:'Liberation Sans',sans-serif;" textLength="58" lengthAdjust="spacingAndGlyphs">Información sobre la</text>
<text x="173" y="12.9" font-size="7.4" font-weight="bold" fill="#fff" style="font-family:'Liberation Serif',serif;" textLength="42" lengthAdjust="spacingAndGlyphs">TULAREMIA</text>
<ellipse cx="90" cy="48" rx="50" ry="22" fill="#b9bcb0" opacity="0.55" filter="url(#bb3)"/><ellipse cx="290" cy="58" rx="40" ry="16" fill="#c3c6ba" opacity="0.5" filter="url(#bb3)"/>
<rect x="0" y="68" width="326" height="16" fill="#cfdcc0" opacity="0.5" filter="url(#bb3)"/>
<rect x="10.2" y="21.6" width="88.8" height="7.5" fill="#f8cf62"/>
<text x="12.2" y="28.6" font-size="11" font-weight="bold" font-style="italic" fill="#8a1224" style="font-family:'Liberation Sans',sans-serif;">D</text>
<text x="20.2" y="28.2" font-size="5.6" font-weight="bold" fill="#8a1224" style="font-family:'Liberation Sans',sans-serif;">ESCRIPCIÓN</text>
<rect x="14.2" y="36.6" width="76.0" height="1.4" fill="#3c3c3c" opacity="0.75"/>
<rect x="14.2" y="39.9" width="77.0" height="1.4" fill="#3c3c3c" opacity="0.75"/>
<rect x="14.2" y="43.2" width="79.0" height="1.4" fill="#3c3c3c" opacity="0.75"/>
<rect x="14.2" y="46.5" width="78.0" height="1.4" fill="#3c3c3c" opacity="0.75"/>
<rect x="14.2" y="49.8" width="44.0" height="1.4" fill="#3c3c3c" opacity="0.75"/>
<rect x="14.2" y="56.1" width="80.0" height="1.4" fill="#3c3c3c" opacity="0.75"/>
<rect x="14.2" y="59.4" width="43.0" height="1.4" fill="#3c3c3c" opacity="0.75"/>
<rect x="13.5" y="69.1" width="42" height="27" fill="#7d7a4c"/><ellipse cx="33.5" cy="83.1" rx="13" ry="6" fill="#a0603c"/>
<rect x="58.5" y="69.1" width="37" height="29" fill="#5b8250"/><ellipse cx="75.5" cy="84.1" rx="10" ry="8" fill="#b04a34"/>
<rect x="9.1" y="109.2" width="101.1" height="7.5" fill="#f8cf62"/>
<text x="11.1" y="116.2" font-size="11" font-weight="bold" font-style="italic" fill="#8a1224" style="font-family:'Liberation Sans',sans-serif;">D</text>
<text x="19.1" y="115.8" font-size="5.6" font-weight="bold" fill="#8a1224" style="font-family:'Liberation Sans',sans-serif;">ISTRIBUCIÓN</text>
<rect x="15.1" y="124.2" width="79.0" height="1.4" fill="#3c3c3c" opacity="0.75"/>
<rect x="15.1" y="127.5" width="44.1" height="1.4" fill="#3c3c3c" opacity="0.75"/>
<rect x="15.1" y="134.8" width="80.0" height="1.4" fill="#3c3c3c" opacity="0.75"/>
<rect x="15.1" y="138.1" width="79.0" height="1.4" fill="#3c3c3c" opacity="0.75"/>
<rect x="15.1" y="141.4" width="43.1" height="1.4" fill="#3c3c3c" opacity="0.75"/>
<rect x="15.1" y="148.7" width="79.0" height="1.4" fill="#3c3c3c" opacity="0.75"/>
<rect x="15.1" y="152.0" width="41.1" height="1.4" fill="#3c3c3c" opacity="0.75"/>
<rect x="-0.2" y="168.2" width="110.5" height="7.5" fill="#f8cf62"/>
<text x="1.8" y="175.2" font-size="11" font-weight="bold" font-style="italic" fill="#8a1224" style="font-family:'Liberation Sans',sans-serif;">T</text>
<text x="9.8" y="174.8" font-size="5.6" font-weight="bold" fill="#8a1224" style="font-family:'Liberation Sans',sans-serif;">ULAREMIA EN LOS ANIMALES</text>
<rect x="35.8" y="181.2" width="57.0" height="1.4" fill="#3c3c3c" opacity="0.75"/>
<rect x="35.8" y="184.5" width="56.0" height="1.4" fill="#3c3c3c" opacity="0.75"/>
<rect x="35.8" y="187.8" width="58.0" height="1.4" fill="#3c3c3c" opacity="0.75"/>
<rect x="35.8" y="191.1" width="56.0" height="1.4" fill="#3c3c3c" opacity="0.75"/>
<rect x="35.8" y="194.4" width="56.0" height="1.4" fill="#3c3c3c" opacity="0.75"/>
<rect x="35.8" y="197.7" width="57.0" height="1.4" fill="#3c3c3c" opacity="0.75"/>
<rect x="35.8" y="201.0" width="29.0" height="1.4" fill="#3c3c3c" opacity="0.75"/>
<path d="M17.3,216.4 q-6,-14 4,-24 l-2,-12 l4,0 l3,10 l3,-10 l3,1 l-3,13 q6,8 2,22 Z" fill="#8a6a4a"/>
<rect x="119.6" y="22.4" width="97.2" height="7.5" fill="#f8cf62"/>
<text x="121.6" y="29.4" font-size="11" font-weight="bold" font-style="italic" fill="#8a1224" style="font-family:'Liberation Sans',sans-serif;">V</text>
<text x="129.6" y="29.0" font-size="5.6" font-weight="bold" fill="#8a1224" style="font-family:'Liberation Sans',sans-serif;">ÍAS DE CONTAGIO</text>
<rect x="123.6" y="36.4" width="77.0" height="1.4" fill="#3c3c3c" opacity="0.75"/>
<rect x="123.6" y="39.7" width="76.0" height="1.4" fill="#3c3c3c" opacity="0.75"/>
<rect x="123.6" y="43.0" width="78.0" height="1.4" fill="#3c3c3c" opacity="0.75"/>
<rect x="123.6" y="46.3" width="76.0" height="1.4" fill="#3c3c3c" opacity="0.75"/>
<rect x="123.6" y="49.6" width="74.0" height="1.4" fill="#3c3c3c" opacity="0.75"/>
<rect x="123.6" y="52.9" width="41.9" height="1.4" fill="#3c3c3c" opacity="0.75"/>
<rect x="121.6" y="60.2" width="76.0" height="1.4" fill="#3c3c3c" opacity="0.75"/>
<rect x="121.6" y="63.5" width="74.0" height="1.4" fill="#3c3c3c" opacity="0.75"/>
<rect x="121.6" y="66.8" width="74.0" height="1.4" fill="#3c3c3c" opacity="0.75"/>
<rect x="121.6" y="70.1" width="74.0" height="1.4" fill="#3c3c3c" opacity="0.75"/>
<rect x="121.6" y="73.4" width="42.9" height="1.4" fill="#3c3c3c" opacity="0.75"/>
<rect x="120.6" y="80.7" width="79.0" height="1.4" fill="#3c3c3c" opacity="0.75"/>
<rect x="120.6" y="84.0" width="76.0" height="1.4" fill="#3c3c3c" opacity="0.75"/>
<rect x="120.6" y="87.3" width="78.0" height="1.4" fill="#3c3c3c" opacity="0.75"/>
<rect x="120.6" y="90.6" width="78.0" height="1.4" fill="#3c3c3c" opacity="0.75"/>
<rect x="120.6" y="93.9" width="80.0" height="1.4" fill="#3c3c3c" opacity="0.75"/>
<rect x="120.6" y="97.2" width="80.0" height="1.4" fill="#3c3c3c" opacity="0.75"/>
<rect x="120.6" y="100.5" width="41.0" height="1.4" fill="#3c3c3c" opacity="0.75"/>
<rect x="119.6" y="107.8" width="31.0" height="1.4" fill="#3c3c3c" opacity="0.75"/>
<rect x="119.6" y="111.1" width="34.0" height="1.4" fill="#3c3c3c" opacity="0.75"/>
<rect x="119.6" y="114.4" width="16.7" height="1.4" fill="#3c3c3c" opacity="0.75"/>
<path d="M187.9,55.8 l6,-6 l4,2 l4,-2 l5,6 l-2,12 l10,10 l-6,4 l-14,-10 Z" fill="#e0b79c"/>
<g fill="#5db5b2"><circle cx="172.1" cy="117.5" r="2.6"/><rect x="168.1" y="120.5" width="8.5" height="10" rx="1.5"/><rect x="169.1" y="129.5" width="2.8" height="10"/><rect x="173.1" y="129.5" width="2.8" height="10"/></g>
<g fill="#e79ab4"><circle cx="202.1" cy="113.5" r="2.6"/><rect x="198.1" y="116.5" width="8.5" height="10" rx="1.5"/><rect x="199.1" y="125.5" width="2.8" height="10"/><rect x="203.1" y="125.5" width="2.8" height="10"/></g>
<text x="181.6" y="129.5" font-size="12" font-weight="bold" fill="#a0207a" style="font-family:'Liberation Sans',sans-serif;">×</text>
<rect x="110.5" y="144.2" width="110.6" height="7.5" fill="#f8cf62"/>
<text x="112.5" y="151.2" font-size="11" font-weight="bold" font-style="italic" fill="#8a1224" style="font-family:'Liberation Sans',sans-serif;">T</text>
<text x="120.5" y="150.8" font-size="5.6" font-weight="bold" fill="#8a1224" style="font-family:'Liberation Sans',sans-serif;">ULAREMIA EN LAS PERSONAS</text>
<rect x="118.5" y="159.2" width="78.0" height="1.4" fill="#3c3c3c" opacity="0.75"/>
<rect x="118.5" y="162.5" width="75.0" height="1.4" fill="#3c3c3c" opacity="0.75"/>
<rect x="118.5" y="165.8" width="41.9" height="1.4" fill="#3c3c3c" opacity="0.75"/>
<rect x="116.5" y="173.1" width="80.0" height="1.4" fill="#3c3c3c" opacity="0.75"/>
<rect x="116.5" y="176.4" width="78.0" height="1.4" fill="#3c3c3c" opacity="0.75"/>
<rect x="116.5" y="179.7" width="77.0" height="1.4" fill="#3c3c3c" opacity="0.75"/>
<rect x="116.5" y="183.0" width="77.0" height="1.4" fill="#3c3c3c" opacity="0.75"/>
<rect x="116.5" y="186.3" width="80.0" height="1.4" fill="#3c3c3c" opacity="0.75"/>
<rect x="116.5" y="189.6" width="44.0" height="1.4" fill="#3c3c3c" opacity="0.75"/>
<ellipse cx="129.5" cy="208.1" rx="9" ry="5.5" fill="#f4f4f4" stroke="#bbb" stroke-width="0.6"/><ellipse cx="143.5" cy="208.1" rx="10" ry="5" fill="#2f7f86"/>
<rect x="163.5" y="202.1" width="40.0" height="1.4" fill="#3c3c3c" opacity="0.75"/>
<rect x="163.5" y="205.2" width="40.0" height="1.4" fill="#3c3c3c" opacity="0.75"/>
<rect x="163.5" y="208.3" width="24.2" height="1.4" fill="#3c3c3c" opacity="0.75"/>
<rect x="230.3" y="22.3" width="96.4" height="7.5" fill="#f8cf62"/>
<text x="232.3" y="29.3" font-size="11" font-weight="bold" font-style="italic" fill="#8a1224" style="font-family:'Liberation Sans',sans-serif;">M</text>
<text x="240.3" y="28.9" font-size="5.6" font-weight="bold" fill="#8a1224" style="font-family:'Liberation Sans',sans-serif;">EDIDAS PREVENTIVAS</text>
<rect x="231.3" y="38.0" width="2" height="2" fill="#c03060"/>
<rect x="238.3" y="38.3" width="67.0" height="1.4" fill="#3c3c3c" opacity="0.75"/>
<rect x="238.3" y="41.6" width="66.0" height="1.4" fill="#3c3c3c" opacity="0.75"/>
<rect x="238.3" y="44.9" width="36.5" height="1.4" fill="#3c3c3c" opacity="0.75"/>
<rect x="231.3" y="53.1" width="2" height="2" fill="#c03060"/>
<rect x="238.3" y="53.4" width="66.0" height="1.4" fill="#3c3c3c" opacity="0.75"/>
<rect x="238.3" y="56.7" width="36.5" height="1.4" fill="#3c3c3c" opacity="0.75"/>
<rect x="231.3" y="64.9" width="2" height="2" fill="#c03060"/>
<rect x="238.3" y="65.2" width="66.0" height="1.4" fill="#3c3c3c" opacity="0.75"/>
<rect x="238.3" y="68.5" width="37.5" height="1.4" fill="#3c3c3c" opacity="0.75"/>
<rect x="231.3" y="76.7" width="2" height="2" fill="#c03060"/>
<rect x="238.3" y="77.0" width="70.0" height="1.4" fill="#3c3c3c" opacity="0.75"/>
<rect x="238.3" y="80.3" width="68.0" height="1.4" fill="#3c3c3c" opacity="0.75"/>
<rect x="238.3" y="83.6" width="70.0" height="1.4" fill="#3c3c3c" opacity="0.75"/>
<rect x="238.3" y="86.9" width="38.5" height="1.4" fill="#3c3c3c" opacity="0.75"/>
<rect x="231.3" y="95.1" width="2" height="2" fill="#c03060"/>
<rect x="238.3" y="95.4" width="70.0" height="1.4" fill="#3c3c3c" opacity="0.75"/>
<rect x="238.3" y="98.7" width="66.0" height="1.4" fill="#3c3c3c" opacity="0.75"/>
<rect x="238.3" y="102.0" width="34.5" height="1.4" fill="#3c3c3c" opacity="0.75"/>
<rect x="231.3" y="110.2" width="2" height="2" fill="#c03060"/>
<rect x="238.3" y="110.5" width="70.0" height="1.4" fill="#3c3c3c" opacity="0.75"/>
<rect x="238.3" y="113.8" width="37.5" height="1.4" fill="#3c3c3c" opacity="0.75"/>
<rect x="224.3" y="122.0" width="2" height="2" fill="#c03060"/>
<rect x="232.3" y="122.3" width="35.0" height="1.4" fill="#3c3c3c" opacity="0.75"/>
<rect x="232.3" y="125.6" width="36.0" height="1.4" fill="#3c3c3c" opacity="0.75"/>
<rect x="232.3" y="128.9" width="34.0" height="1.4" fill="#3c3c3c" opacity="0.75"/>
<rect x="232.3" y="132.2" width="36.0" height="1.4" fill="#3c3c3c" opacity="0.75"/>
<rect x="232.3" y="135.5" width="37.0" height="1.4" fill="#3c3c3c" opacity="0.75"/>
<rect x="232.3" y="138.8" width="38.0" height="1.4" fill="#3c3c3c" opacity="0.75"/>
<rect x="232.3" y="142.1" width="18.9" height="1.4" fill="#3c3c3c" opacity="0.75"/>
<ellipse cx="305.7" cy="143.8" rx="21" ry="13" fill="#f2f0ee" stroke="#c8c4c0" stroke-width="0.8"/><ellipse cx="308.7" cy="142.8" rx="14" ry="8" fill="#a8362c"/>
<rect x="220.3" y="150.1" width="2" height="2" fill="#c03060"/>
<rect x="227.3" y="150.4" width="74.0" height="1.4" fill="#3c3c3c" opacity="0.75"/>
<rect x="227.3" y="153.7" width="74.0" height="1.4" fill="#3c3c3c" opacity="0.75"/>
<rect x="227.3" y="157.0" width="75.0" height="1.4" fill="#3c3c3c" opacity="0.75"/>
<rect x="227.3" y="160.3" width="38.8" height="1.4" fill="#3c3c3c" opacity="0.75"/>
<rect x="218.3" y="168.3" width="2" height="2" fill="#c03060"/>
<rect x="225.3" y="168.6" width="73.0" height="1.4" fill="#3c3c3c" opacity="0.75"/>
<rect x="225.3" y="171.9" width="73.0" height="1.4" fill="#3c3c3c" opacity="0.75"/>
<rect x="225.3" y="175.2" width="72.0" height="1.4" fill="#3c3c3c" opacity="0.75"/>
<rect x="225.3" y="178.5" width="38.8" height="1.4" fill="#3c3c3c" opacity="0.75"/>
</g></g>
</svg>
<svg class="abs" style="left:60px;top:2980px;" width="1160" height="1200" viewBox="60 2980 1160 1200">
<defs><filter id="mb" x="-1%" y="-1%" width="102%" height="102%"><feGaussianBlur stdDeviation="0.9"/></filter></defs>
<g filter="url(#mb)">
<g fill="none" stroke="#7497b6" stroke-width="2.6" stroke-linejoin="round" stroke-linecap="round">
<path d="M234.9,3361.6 L232.3,3345.7 L238.9,3328.4 L237.6,3311.2 L244.2,3297.9 L252.2,3284.6 L242.9,3276.7 L229.6,3274.0 L221.7,3263.4 L215.0,3252.8 L216.4,3244.8 L227.0,3236.8 L234.9,3223.6 L240.2,3210.3 L236.3,3199.7 L241.6,3186.4 L244.2,3173.1 L237.6,3165.2 L240.2,3157.2 L250.9,3155.9 L261.5,3154.6 L266.8,3138.6 L277.4,3128.0 L285.4,3114.8 L296.0,3101.5 L301.3,3088.2 L297.3,3074.9 L303.9,3061.7 L314.6,3048.4 L327.8,3037.8 L341.1,3032.5 L351.7,3029.8 L362.3,3025.8 L375.6,3024.5 L388.9,3029.8 L402.2,3033.8 L415.4,3024.5 L426.0,3020.5 L439.3,3028.5 L452.6,3032.5 L465.9,3019.2 L476.5,3011.2 L489.7,3015.2 L503.0,3016.5 L513.6,3001.9 L526.9,3005.9 L537.5,3013.9 L550.0,3016.5"/>
<path d="M341.1,3032.5 L351.7,3043.1 L355.7,3053.7 L351.7,3067.0 L346.4,3072.3 L347.7,3085.6 L342.4,3096.2 L351.7,3104.1 L362.3,3112.1 L370.3,3125.4 L370.3,3138.6 L363.7,3149.3 L367.7,3157.2 L380.9,3159.9 L395.5,3163.9 L398.2,3175.8 L394.2,3191.7 L391.5,3205.0 L383.6,3213.0 L380.9,3228.9 L386.2,3239.5 L396.8,3248.8 L410.1,3255.4 L423.4,3260.7 L435.3,3266.0 L443.3,3271.4"/>
<path d="M418.1,3259.4 L402.2,3271.4 L394.2,3279.3 L383.6,3288.6 L373.0,3274.0 L362.3,3260.7 L351.7,3266.0 L346.4,3276.7 L341.1,3287.3 L333.1,3295.2 L319.9,3297.9 L315.9,3308.5 L301.3,3313.8 L282.7,3317.8 L261.5,3321.8 L256.2,3328.4 L238.9,3328.4"/>
<path d="M443.3,3271.4 L449.9,3258.1 L463.2,3244.8 L473.8,3236.8 L484.4,3220.9 L495.1,3205.0 L500.4,3207.7 L503.0,3218.3 L511.0,3223.6 L521.6,3228.9 L532.2,3242.2 L534.9,3250.1 L529.6,3258.1 L532.2,3266.0 L550.0,3271.4"/>
<path d="M443.3,3271.4 L457.9,3276.7"/>
<path d="M549.9,3016.5 L557.1,3029.8 L563.7,3043.1 L569.0,3056.4 L573.0,3067.0 L584.9,3073.6 L600.9,3076.3 L616.8,3077.6 L635.4,3080.2 L648.6,3088.2 L652.6,3101.5 L652.6,3117.4 L653.9,3133.3 L656.6,3149.3 L659.3,3165.2 L664.6,3175.8 L675.2,3178.5 L685.8,3170.5 L696.4,3163.9 L705.7,3159.9 L715.0,3167.8 L717.7,3175.8 L711.0,3186.4 L699.1,3191.7 L689.8,3195.7 L683.1,3202.3 L687.1,3211.6 L692.4,3208.2 L696.4,3202.3 L691.1,3198.4"/>
<path d="M728.3,3195.7 L736.2,3202.3 L740.2,3220.9 L738.9,3236.8 L746.8,3248.8 L762.8,3246.1 L768.1,3236.8 L776.0,3226.2 L786.7,3218.3 L788.0,3199.7 L793.3,3193.1 L797.3,3202.3 L796.0,3223.6 L794.6,3244.8 L797.3,3252.8 L813.2,3251.4 L826.5,3250.1 L831.8,3266.0 L837.1,3282.0 L835.8,3295.2 L845.1,3305.9 L853.0,3316.5 L857.0,3327.1 L871.6,3325.8 L879.6,3335.1 L884.9,3348.3 L882.2,3361.6 L871.6,3372.2 L863.6,3372.2 L853.0,3361.6 L837.1,3357.6 L818.5,3356.3 L805.2,3351.0 L802.6,3340.4 L792.0,3332.4 L778.7,3324.4 L765.4,3317.8 L749.5,3308.5 L733.6,3300.6 L717.7,3296.6 L699.1,3293.9 L685.8,3287.3 L677.8,3275.3 L669.9,3282.0 L659.3,3289.9 L648.6,3297.9 L635.4,3305.9 L627.4,3295.2 L623.4,3282.0 L614.1,3274.0 L600.9,3268.7 L590.2,3262.1 L574.3,3264.7 L558.4,3263.4 L545.1,3267.4 L531.9,3263.4 L534.5,3248.8 L526.5,3234.2 L515.9,3223.6 L505.3,3218.3 L500.0,3202.3"/>
<path d="M728.3,3195.7 L725.6,3202.3 L724.3,3213.0"/>
<path d="M699.1,3293.9 L697.7,3303.2 L701.7,3313.8 L696.4,3320.5 L624.8,3319.1 L623.4,3332.4 L627.4,3345.7 L624.8,3361.6 L614.1,3372.2 L616.8,3390.0"/>
<path d="M573.0,3067.0 L565.0,3080.2 L570.3,3093.5 L573.0,3104.1 L587.6,3106.8 L595.6,3122.7 L590.2,3133.3 L577.0,3141.3 L573.0,3151.9 L563.7,3157.2 L571.7,3167.8 L582.3,3181.1 L592.9,3189.1 L587.6,3195.7 L577.0,3194.4 L566.4,3189.1 L553.1,3191.7 L545.1,3195.7 L534.5,3197.0 L545.1,3207.7 L557.1,3216.9 L567.7,3223.6 L555.7,3231.5 L545.1,3240.8 L534.5,3248.8"/>
<path d="M632.7,3268.7 L639.3,3266.0 L644.7,3270.0 L640.7,3276.7 L634.0,3274.0 L632.7,3268.7"/>
<path d="M457.0,3275.9 L451.7,3289.2 L455.6,3299.8 L446.4,3307.8 L450.3,3326.4 L454.3,3347.6 L459.6,3363.5 L470.2,3376.8 L467.6,3387.4 L476.9,3384.8 L480.9,3403.3 L482.2,3413.9 L484.8,3427.2 L488.8,3443.1 L494.1,3448.5 L496.8,3464.4 L510.1,3471.0 L516.7,3472.3 L520.7,3485.6 L527.3,3477.7 L524.7,3461.7 L518.0,3445.8 L515.4,3429.9 L520.7,3423.2 L533.9,3419.3 L544.6,3416.6 L560.5,3419.3 L571.1,3413.9 L579.1,3411.3 L587.0,3419.3 L584.4,3432.5 L589.7,3443.1 L603.0,3448.5 L610.9,3451.1"/>
<path d="M482.2,3413.9 L472.9,3419.3 L467.6,3429.9 L457.0,3440.5 L449.0,3451.1 L441.0,3448.5 L430.4,3440.5 L419.8,3435.2 L417.2,3445.8 L406.5,3451.1 L402.6,3461.7 L409.2,3472.3 L401.2,3483.0 L393.3,3488.3 L398.6,3504.2 L390.6,3514.8 L380.0,3509.5"/>
<path d="M486.2,3445.8 L475.6,3461.7 L464.9,3472.3 L462.3,3483.0 L467.6,3498.9 L464.9,3514.8 L459.6,3525.4 L455.6,3538.7 L459.6,3552.0 L464.9,3565.2 L480.9,3573.2 L496.8,3578.5 L507.4,3589.1 L523.3,3586.5 L544.6,3591.8 L565.8,3602.4 L587.0,3610.4 L603.0,3621.0 L618.9,3615.7 L634.8,3613.0 L642.8,3614.3"/>
<path d="M628.2,3321.0 L622.9,3337.0 L629.5,3347.6 L628.2,3363.5 L613.6,3374.1 L616.2,3392.7 L622.9,3398.0 L605.6,3406.0 L606.9,3419.3 L618.9,3429.9 L621.5,3445.8 L618.9,3451.1 L610.9,3451.1 L626.8,3452.4 L637.5,3461.7 L641.4,3475.0 L636.1,3485.6 L641.4,3493.6 L634.8,3497.6 L595.0,3496.2"/>
<path d="M610.9,3451.1 L604.3,3464.4 L600.3,3472.3 L592.3,3493.6 L589.7,3506.8 L584.4,3525.4 L585.7,3541.4 L589.7,3552.0 L603.0,3554.6 L618.9,3552.0 L622.9,3559.9 L626.8,3567.9 L632.2,3578.5 L638.8,3591.8 L642.8,3614.3 L656.0,3623.6 L660.0,3636.9 L656.0,3650.2 L650.7,3660.0"/>
<path d="M238.8,3330.0 L234.8,3345.9 L236.2,3361.9 L230.9,3377.8 L232.2,3391.0 L224.2,3404.3 L226.9,3417.6 L240.2,3424.2 L240.2,3441.5 L236.2,3457.4 L234.8,3473.3 L232.2,3489.3 L217.6,3505.2 L224.2,3515.8 L221.6,3531.7 L225.6,3547.7 L209.6,3550.3 L188.4,3553.0 L184.4,3566.2 L177.8,3582.2 L191.0,3580.8 L203.0,3582.2 L200.3,3598.1 L196.4,3611.4 L195.0,3619.3 L180.4,3622.0 L164.5,3623.3 L159.2,3635.2 L156.5,3651.2 L160.5,3664.4 L153.9,3677.7 L148.6,3691.0 L153.9,3701.6 L148.6,3714.9 L143.3,3730.0"/>
<path d="M232.2,3489.3 L242.8,3486.6 L246.8,3497.2 L254.8,3510.5 L262.7,3521.1 L265.4,3537.0 L269.3,3550.3 L283.9,3547.7 L291.9,3555.6 L294.6,3568.9 L302.5,3575.5 L313.1,3568.9 L321.1,3553.0 L331.7,3542.3 L345.0,3534.4 L358.3,3526.4 L366.2,3526.4 L368.9,3515.8 L382.2,3513.1 L398.1,3519.8 L400.7,3505.2 L395.4,3489.3 L408.7,3481.3 L406.0,3468.0 L403.4,3454.8 L415.3,3449.4 L420.6,3433.5 L429.9,3444.1 L443.2,3453.4 L453.8,3441.5 L464.4,3428.2 L475.1,3414.9 L477.7,3407.0"/>
<path d="M294.6,3568.9 L278.6,3571.5 L268.0,3582.2 L264.0,3587.5 L270.7,3595.4 L273.3,3606.0 L278.6,3619.3 L283.9,3629.9 L282.6,3637.9 L278.6,3648.5 L276.0,3664.4 L277.3,3680.4 L281.3,3696.3 L282.6,3706.9 L286.6,3720.2 L289.3,3730.0"/>
<path d="M282.6,3637.9 L291.9,3643.2 L302.5,3651.2 L315.8,3655.1 L323.8,3643.2 L331.7,3629.9 L342.3,3616.7 L353.0,3611.4 L360.9,3619.3 L368.9,3629.9 L379.5,3640.6 L384.8,3653.8 L388.8,3667.1 L400.7,3672.4 L408.7,3669.7 L411.9,3675.1"/>
<path d="M512.2,3590.1 L498.9,3598.1 L483.0,3608.7 L467.1,3616.7 L456.5,3624.6 L459.1,3640.6 L455.1,3651.2 L452.5,3667.1 L455.1,3672.4 L448.5,3685.7 L445.9,3701.6 L440.6,3712.2 L435.2,3730.0"/>
<path d="M149.9,3680.0 L153.9,3693.3 L152.6,3706.5 L143.3,3719.8 L145.9,3733.1 L159.2,3737.1 L169.8,3743.7 L185.7,3738.4 L204.3,3737.1 L209.6,3733.1 L207.0,3746.4 L208.3,3762.3 L212.3,3778.2 L217.6,3791.5 L218.9,3796.8 L209.6,3802.1 L201.7,3812.7 L193.7,3823.3 L197.7,3836.6 L193.7,3849.9 L183.1,3863.1 L176.4,3873.8 L173.8,3884.4 L164.5,3895.0 L157.9,3905.6 L156.5,3916.2 L165.8,3934.8 L175.1,3926.8 L188.4,3918.9 L201.7,3928.2 L214.9,3925.5 L230.9,3922.9 L241.5,3928.2 L249.4,3940.1 L257.4,3950.7 L265.4,3966.7 L273.3,3982.6 L278.6,3995.9 L286.6,4009.1 L291.9,4014.4 L302.5,4009.1 L313.1,4001.2 L321.1,3993.2 L326.4,3977.3 L337.0,3969.3 L347.7,3961.4 L358.3,3953.4 L363.6,3948.1 L376.8,3953.4 L384.8,3961.4 L388.8,3974.6 L395.4,3985.2 L406.0,3995.9 L414.0,4006.5 L422.0,4014.4 L432.6,4018.4 L440.6,4011.8 L451.2,4014.4 L461.8,4006.5 L472.4,4001.2 L485.7,3998.5 L488.3,4011.8 L496.3,4015.8 L485.7,4019.7 L480.4,4033.0 L477.7,4046.3 L472.4,4054.3 L483.0,4059.6 L496.3,4064.9 L506.9,4068.9 L520.2,4062.2 L530.0,4051.6"/>
<path d="M209.6,3733.1 L207.0,3722.5 L217.6,3721.1 L236.2,3722.5 L246.8,3719.8 L262.7,3711.9 L278.6,3705.2 L282.6,3701.2 L289.3,3717.2 L294.6,3733.1 L303.9,3743.7 L291.9,3749.0 L283.9,3759.6 L281.3,3772.9 L282.6,3791.5 L281.3,3807.4 L289.3,3820.7 L302.5,3826.0 L315.8,3828.6 L323.8,3824.7 L331.7,3818.0 L342.3,3818.0 L360.9,3820.7 L368.9,3818.0 L379.5,3810.1 L387.5,3796.8 L395.4,3786.2 L408.7,3778.2 L422.0,3775.6 L437.9,3772.9 L448.5,3762.3 L461.8,3758.3 L480.4,3757.0 L496.3,3762.3 L501.6,3772.9 L512.2,3780.9 L530.0,3784.8"/>
<path d="M282.6,3701.2 L281.3,3680.0"/>
<path d="M403.4,3680.0 L411.4,3688.0 L416.7,3695.9 L406.0,3703.9 L398.1,3711.9 L400.7,3722.5 L408.7,3733.1 L419.3,3737.1 L435.2,3737.1 L441.1,3733.1 L448.0,3706.5 L457.0,3680.0"/>
<path d="M368.9,3818.0 L372.9,3828.6 L376.8,3839.3 L390.1,3844.6 L395.4,3852.5 L384.8,3860.5 L376.8,3865.8 L368.9,3876.4 L363.6,3887.0 L358.3,3900.3 L355.6,3913.6 L355.6,3926.8 L360.9,3940.1 L363.6,3948.1"/>
<path d="M395.4,3852.5 L384.8,3865.8 L382.2,3879.1 L387.5,3892.3 L384.8,3905.6 L382.2,3918.9 L384.8,3929.5 L379.5,3942.8 L368.9,3948.1"/>
<path d="M414.0,3849.9 L422.0,3841.9 L435.2,3836.6 L448.5,3831.3 L461.8,3836.6 L472.4,3849.9 L485.7,3860.5 L493.6,3871.1 L498.9,3887.0 L501.6,3900.3 L498.9,3913.6 L496.3,3918.9"/>
<path d="M414.0,3849.9 L416.7,3865.8 L411.4,3881.7 L408.7,3897.7 L410.0,3913.6 L406.0,3926.8"/>
<path d="M443.2,3889.7 L464.4,3884.4 L475.1,3873.8 L480.4,3863.1 L485.7,3860.5"/>
<path d="M443.2,3889.7 L444.5,3905.6 L443.2,3918.9 L440.6,3929.5 L419.3,3926.8 L400.7,3928.2 L390.1,3932.2 L382.2,3942.8"/>
<path d="M500.3,3903.0 L508.2,3903.0 L508.2,3910.9 L500.3,3910.9 L500.3,3903.0"/>
<path d="M644.6,3680.0 L647.2,3695.9 L657.8,3706.5 L665.8,3717.2 L669.8,3730.4 L663.1,3743.7 L663.1,3757.0 L661.8,3764.9 L649.9,3770.2 L636.6,3775.6 L623.3,3772.9 L612.7,3778.2 L604.8,3788.8 L591.5,3792.8 L578.2,3791.5 L564.9,3786.2 L557.0,3782.2 L549.0,3780.9 L538.4,3784.8 L522.5,3783.5 L509.2,3778.2 L501.2,3767.6 L495.9,3759.6 L480.0,3757.0"/>
<path d="M661.8,3764.9 L676.4,3764.9 L689.7,3763.6 L700.3,3770.2 L713.6,3767.6 L721.5,3778.2 L732.2,3783.5 L745.4,3788.8 L753.4,3794.1 L745.4,3802.1 L734.8,3803.4 L725.5,3803.4 L724.2,3818.0 L725.5,3828.6 L734.8,3836.6 L748.1,3839.3 L761.4,3839.3 L777.3,3836.6 L790.6,3833.9 L798.5,3832.6 L803.8,3839.3 L807.8,3847.2 L798.5,3857.8 L790.6,3865.8 L779.9,3876.4 L774.6,3889.7 L769.3,3900.3 L766.7,3908.3 L782.6,3905.6 L798.5,3897.7 L814.4,3889.7 L830.4,3883.1 L846.3,3876.4 L856.9,3877.7 L856.9,3892.3 L854.3,3905.6 L841.0,3908.3 L827.7,3910.9 L822.4,3921.5 L809.1,3926.8 L798.5,3929.5 L797.2,3942.8 L798.5,3950.7 L787.9,3958.7 L777.3,3966.7 L766.7,3973.3 L750.7,3976.0 L734.8,3978.6 L732.2,3985.2 L737.5,3993.2 L732.2,4003.8 L729.5,4011.8 L737.5,4022.4 L748.1,4033.0 L758.7,4043.6 L762.7,4054.3 L758.7,4063.5 L748.1,4059.6 L734.8,4055.6 L724.2,4046.3 L716.2,4035.7 L708.3,4030.4 L697.7,4034.3 L687.0,4035.7 L676.4,4033.0 L663.1,4034.3 L649.9,4033.0 L639.3,4025.1 L628.6,4030.4 L618.0,4038.3 L610.1,4048.9 L599.4,4056.9 L586.2,4063.5 L572.9,4062.2 L559.6,4056.9 L549.0,4048.9 L538.4,4046.3 L527.8,4051.6 L517.2,4062.2 L506.5,4067.5 L493.3,4064.9 L480.0,4059.6"/>
<path d="M769.3,3788.8 L772.0,3796.8 L773.3,3804.8 L769.8,3803.4"/>
<path d="M774.6,3910.9 L777.3,3924.2 L781.3,3937.5 L782.6,3945.4 L793.2,3945.4"/>
<path d="M766.7,3908.3 L765.3,3913.6 L764.0,3929.5 L766.1,3948.1 L766.7,3973.3"/>
<path d="M639.3,4025.1 L636.6,4014.4 L631.3,4003.8 L632.6,3990.6 L630.0,3977.3 L628.6,3964.0 L620.7,3958.7 L604.8,3954.7 L594.1,3948.1 L586.2,3937.5 L572.9,3929.5 L562.3,3924.2 L549.0,3920.2 L541.0,3922.9 L527.8,3922.9 L511.9,3918.9 L495.9,3916.2 L480.0,3913.6"/>
<path d="M766.7,3908.3 L758.7,3900.3 L748.1,3892.3 L734.8,3889.7 L724.2,3895.0 L708.3,3897.7 L705.6,3884.4 L700.3,3873.8 L687.0,3865.8 L676.4,3863.1 L663.1,3863.1 L655.2,3871.1 L647.2,3881.7 L639.3,3892.3 L628.6,3900.3 L615.4,3896.3 L602.1,3889.7 L588.8,3884.4 L578.2,3879.1 L567.6,3871.1 L557.0,3881.7 L546.4,3887.0 L533.1,3885.7"/>
<path d="M541.0,3796.8 L542.4,3812.7 L543.7,3828.6 L546.4,3839.3 L557.0,3855.2 L567.6,3871.1"/>
<path d="M514.5,3889.7 L522.5,3900.3 L533.1,3913.6 L541.0,3922.9"/>
<path d="M509.2,3860.5 L519.8,3865.8 L533.1,3876.4 L546.4,3887.0"/>
<path d="M534.4,3788.8 L543.7,3784.8 L555.6,3786.2 L559.6,3792.8 L549.0,3795.5 L537.1,3794.1 L534.4,3788.8"/>
</g>
<g fill="#14994f">
<ellipse cx="323.9" cy="3237.8" rx="4.2" ry="8.2"/>
<ellipse cx="311.6" cy="3261.4" rx="4.2" ry="8.2"/>
<ellipse cx="327.3" cy="3263.8" rx="4.2" ry="8.2"/>
<ellipse cx="344.5" cy="3266.3" rx="4.2" ry="8.2"/>
<ellipse cx="319.0" cy="3289.4" rx="4.2" ry="8.2"/>
<ellipse cx="333.2" cy="3286.9" rx="4.2" ry="8.2"/>
<ellipse cx="536.0" cy="3318.8" rx="4.2" ry="8.2"/>
<ellipse cx="558.1" cy="3311.5" rx="4.2" ry="8.2"/>
<ellipse cx="581.7" cy="3325.2" rx="4.2" ry="8.2"/>
<ellipse cx="541.9" cy="3334.5" rx="4.2" ry="8.2"/>
<ellipse cx="560.6" cy="3334.5" rx="4.2" ry="8.2"/>
<ellipse cx="523.7" cy="3355.6" rx="4.2" ry="8.2"/>
<ellipse cx="545.8" cy="3358.1" rx="4.2" ry="8.2"/>
<ellipse cx="564.0" cy="3367.9" rx="4.2" ry="8.2"/>
<ellipse cx="349.9" cy="3380.2" rx="4.2" ry="8.2"/>
<ellipse cx="600.8" cy="3476.9" rx="4.2" ry="8.2"/>
<ellipse cx="586.1" cy="3484.3" rx="4.2" ry="8.2"/>
<ellipse cx="593.9" cy="3500.5" rx="4.2" ry="8.2"/>
<ellipse cx="582.7" cy="3520.1" rx="4.2" ry="8.2"/>
<ellipse cx="596.4" cy="3526.0" rx="4.2" ry="8.2"/>
<ellipse cx="396.5" cy="3594.1" rx="4.2" ry="8.2"/>
<ellipse cx="417.2" cy="3585.1" rx="4.2" ry="8.2"/>
<ellipse cx="207.0" cy="3696.1" rx="4.2" ry="8.2"/>
<ellipse cx="230.3" cy="3699.2" rx="4.2" ry="8.2"/>
<ellipse cx="241.5" cy="3696.1" rx="4.2" ry="8.2"/>
<ellipse cx="210.7" cy="3724.2" rx="4.2" ry="8.2"/>
<ellipse cx="239.9" cy="3724.2" rx="4.2" ry="8.2"/>
<ellipse cx="523.9" cy="3715.2" rx="4.2" ry="8.2"/>
<ellipse cx="545.7" cy="3715.2" rx="4.2" ry="8.2"/>
<ellipse cx="531.9" cy="3725.3" rx="4.2" ry="8.2"/>
<ellipse cx="549.4" cy="3729.5" rx="4.2" ry="8.2"/>
<ellipse cx="537.7" cy="3743.8" rx="4.2" ry="8.2"/>
<ellipse cx="558.9" cy="3742.8" rx="4.2" ry="8.2"/>
<ellipse cx="571.7" cy="3740.1" rx="4.2" ry="8.2"/>
<ellipse cx="320.0" cy="3750.7" rx="4.2" ry="8.2"/>
<ellipse cx="366.2" cy="3756.0" rx="4.2" ry="8.2"/>
<ellipse cx="322.2" cy="3770.9" rx="4.2" ry="8.2"/>
<ellipse cx="338.1" cy="3769.3" rx="4.2" ry="8.2"/>
<ellipse cx="355.6" cy="3770.4" rx="4.2" ry="8.2"/>
<ellipse cx="277.0" cy="3781.0" rx="4.2" ry="8.2"/>
<ellipse cx="257.4" cy="3787.9" rx="4.2" ry="8.2"/>
<ellipse cx="340.2" cy="3793.2" rx="4.2" ry="8.2"/>
<ellipse cx="359.3" cy="3799.6" rx="4.2" ry="8.2"/>
<ellipse cx="380.6" cy="3795.9" rx="4.2" ry="8.2"/>
<ellipse cx="320.0" cy="3803.8" rx="4.2" ry="8.2"/>
<ellipse cx="331.7" cy="3813.4" rx="4.2" ry="8.2"/>
<ellipse cx="347.7" cy="3811.8" rx="4.2" ry="8.2"/>
<ellipse cx="359.3" cy="3817.1" rx="4.2" ry="8.2"/>
<ellipse cx="261.1" cy="3809.1" rx="4.2" ry="8.2"/>
<ellipse cx="278.6" cy="3804.9" rx="4.2" ry="8.2"/>
<ellipse cx="285.5" cy="3827.7" rx="4.2" ry="8.2"/>
<ellipse cx="320.0" cy="3828.8" rx="4.2" ry="8.2"/>
<ellipse cx="253.2" cy="3832.0" rx="4.2" ry="8.2"/>
<ellipse cx="265.4" cy="3836.7" rx="4.2" ry="8.2"/>
<ellipse cx="237.8" cy="3862.2" rx="4.2" ry="8.2"/>
<ellipse cx="251.0" cy="3858.0" rx="4.2" ry="8.2"/>
<ellipse cx="262.7" cy="3858.0" rx="4.2" ry="8.2"/>
<ellipse cx="277.0" cy="3858.0" rx="4.2" ry="8.2"/>
<ellipse cx="294.6" cy="3870.2" rx="4.2" ry="8.2"/>
<ellipse cx="260.1" cy="3875.5" rx="4.2" ry="8.2"/>
<ellipse cx="487.3" cy="3814.4" rx="4.2" ry="8.2"/>
<ellipse cx="498.9" cy="3817.1" rx="4.2" ry="8.2"/>
<ellipse cx="512.2" cy="3819.7" rx="4.2" ry="8.2"/>
<ellipse cx="475.1" cy="3824.0" rx="4.2" ry="8.2"/>
<ellipse cx="463.4" cy="3828.8" rx="4.2" ry="8.2"/>
<ellipse cx="452.8" cy="3834.6" rx="4.2" ry="8.2"/>
<ellipse cx="472.4" cy="3841.0" rx="4.2" ry="8.2"/>
<ellipse cx="496.3" cy="3833.0" rx="4.2" ry="8.2"/>
<ellipse cx="506.9" cy="3833.0" rx="4.2" ry="8.2"/>
<ellipse cx="522.8" cy="3830.4" rx="4.2" ry="8.2"/>
<ellipse cx="514.9" cy="3848.9" rx="4.2" ry="8.2"/>
<ellipse cx="527.1" cy="3846.3" rx="4.2" ry="8.2"/>
<ellipse cx="538.8" cy="3846.3" rx="4.2" ry="8.2"/>
<ellipse cx="554.7" cy="3853.2" rx="4.2" ry="8.2"/>
<ellipse cx="447.5" cy="3855.8" rx="4.2" ry="8.2"/>
<ellipse cx="564.2" cy="3871.8" rx="4.2" ry="8.2"/>
<ellipse cx="519.1" cy="3887.7" rx="4.2" ry="8.2"/>
<ellipse cx="536.1" cy="3887.7" rx="4.2" ry="8.2"/>
<ellipse cx="643.9" cy="3858.5" rx="4.2" ry="8.2"/>
<ellipse cx="629.0" cy="3875.5" rx="4.2" ry="8.2"/>
<ellipse cx="638.6" cy="3877.1" rx="4.2" ry="8.2"/>
<ellipse cx="491.5" cy="3936.5" rx="4.2" ry="8.2"/>
<ellipse cx="508.0" cy="3948.7" rx="4.2" ry="8.2"/>
<ellipse cx="518.6" cy="3948.7" rx="4.2" ry="8.2"/>
<ellipse cx="501.6" cy="3956.2" rx="4.2" ry="8.2"/>
<ellipse cx="571.7" cy="4062.3" rx="4.2" ry="8.2"/>
<ellipse cx="101" cy="4034" rx="3.8" ry="7"/>
</g>
<text x="469.7" y="3122.4" font-size="17" font-weight="bold" fill="#141f4d" stroke="#141f4d" stroke-width="0.5" style="font-family:'Liberation Sans',sans-serif;" textLength="199.9" lengthAdjust="spacingAndGlyphs">CERVERA DE PISUERGA</text>
<text x="312.6" y="3196.0" font-size="17" font-weight="bold" fill="#141f4d" stroke="#141f4d" stroke-width="0.5" style="font-family:'Liberation Sans',sans-serif;" textLength="77.1" lengthAdjust="spacingAndGlyphs">GUARDO</text>
<text x="687.2" y="3228.0" font-size="17" font-weight="bold" fill="#141f4d" stroke="#141f4d" stroke-width="0.5" style="font-family:'Liberation Sans',sans-serif;" textLength="192.5" lengthAdjust="spacingAndGlyphs">AGUILAR DE CAMPOO</text>
<text x="547.3" y="3339.4" font-size="17" font-weight="bold" fill="#141f4d" stroke="#141f4d" stroke-width="0.5" style="font-family:'Liberation Sans',sans-serif;" textLength="204.7" lengthAdjust="spacingAndGlyphs">HERRERA DE PISUERGA</text>
<text x="344.5" y="3400.8" font-size="17" font-weight="bold" fill="#141f4d" stroke="#141f4d" stroke-width="0.5" style="font-family:'Liberation Sans',sans-serif;" textLength="85.9" lengthAdjust="spacingAndGlyphs">SALDAÑA</text>
<text x="545.8" y="3519.0" font-size="17" font-weight="bold" fill="#141f4d" stroke="#141f4d" stroke-width="0.5" style="font-family:'Liberation Sans',sans-serif;" textLength="78.6" lengthAdjust="spacingAndGlyphs">OSORNO</text>
<text x="402.3" y="3576.6" font-size="17" font-weight="bold" fill="#141f4d" stroke="#141f4d" stroke-width="0.5" style="font-family:'Liberation Sans',sans-serif;" textLength="224.0" lengthAdjust="spacingAndGlyphs">CARRION DE LOS CONDES</text>
<text x="185.7" y="3632.4" font-size="17" font-weight="bold" fill="#141f4d" stroke="#141f4d" stroke-width="0.5" style="font-family:'Liberation Sans',sans-serif;" textLength="73.3" lengthAdjust="spacingAndGlyphs">VILLADA</text>
<text x="555.7" y="3690.7" font-size="17" font-weight="bold" fill="#141f4d" stroke="#141f4d" stroke-width="0.5" style="font-family:'Liberation Sans',sans-serif;" textLength="88.2" lengthAdjust="spacingAndGlyphs">FROMISTA</text>
<text x="347.7" y="3744.4" font-size="17" font-weight="bold" fill="#141f4d" stroke="#141f4d" stroke-width="0.5" style="font-family:'Liberation Sans',sans-serif;" textLength="160.3" lengthAdjust="spacingAndGlyphs">PAREDES DE NAVA</text>
<text x="382.7" y="3833.0" font-size="17" font-weight="bold" fill="#141f4d" stroke="#141f4d" stroke-width="0.5" style="font-family:'Liberation Sans',sans-serif;" textLength="146.5" lengthAdjust="spacingAndGlyphs">PALENCIA RURAL</text>
<text x="663.5" y="3836.7" font-size="17" font-weight="bold" fill="#141f4d" stroke="#141f4d" stroke-width="0.5" style="font-family:'Liberation Sans',sans-serif;" textLength="130.1" lengthAdjust="spacingAndGlyphs">TORQUEMADA</text>
<text x="210.7" y="3861.2" font-size="17" font-weight="bold" fill="#141f4d" stroke="#141f4d" stroke-width="0.5" style="font-family:'Liberation Sans',sans-serif;" textLength="125.3" lengthAdjust="spacingAndGlyphs">VILLARRAMIEL</text>
<text x="252.0" y="3889.3" font-size="17" font-weight="bold" fill="#141f4d" stroke="#141f4d" stroke-width="0.5" style="font-family:'Liberation Sans',sans-serif;" textLength="180.6" lengthAdjust="spacingAndGlyphs">PALENCIA (5 ZONAS)</text>
<text x="238.8" y="3914.2" font-size="17" font-weight="bold" fill="#141f4d" stroke="#141f4d" stroke-width="0.5" style="font-family:'Liberation Sans',sans-serif;" textLength="229.4" lengthAdjust="spacingAndGlyphs">VILLAMURIEL DE CERRATO</text>
<text x="658.2" y="3944.5" font-size="17" font-weight="bold" fill="#141f4d" stroke="#141f4d" stroke-width="0.5" style="font-family:'Liberation Sans',sans-serif;" textLength="91.3" lengthAdjust="spacingAndGlyphs">BALTANAS</text>
<text x="439.5" y="3982.2" font-size="17" font-weight="bold" fill="#141f4d" stroke="#141f4d" stroke-width="0.5" style="font-family:'Liberation Sans',sans-serif;" textLength="153.9" lengthAdjust="spacingAndGlyphs">VENTA DE BAÑOS</text>
<text x="110" y="4039" font-size="11.5" fill="#333" style="font-family:'Liberation Sans',sans-serif;" textLength="138" lengthAdjust="spacingAndGlyphs">Casos de tularemia</text>
<rect x="830" y="4021" width="360.5" height="36.3" fill="#fff" stroke="#222" stroke-width="2"/>
<text x="848" y="4044" font-size="11.5" fill="#111" style="font-family:'Liberation Sans',sans-serif;" textLength="327" lengthAdjust="spacingAndGlyphs">Provincia de Zamora y Palencia capital: 4 casos</text>
</g></svg>
<div class="ct" style="left:199px;top:2813.4px;width:643px;font-size:27.6px;line-height:40px;">Localización geográfica de casos por ZBS</div>
<div class="ct" style="left:199px;top:2847.9px;width:643px;font-size:27.6px;line-height:40px;">Riesgo medioambiental</div>
<svg class="abs" style="left:0;top:0;" width="0" height="0"><defs><filter id="tb" x="-1%" y="-1%" width="102%" height="102%"><feGaussianBlur stdDeviation="0.55"/></filter></defs></svg>
<svg class="abs" style="left:900px;top:2900px;" width="860" height="660" viewBox="900 2900 860 660">
<g filter="url(#tb)">
<rect x="930.8" y="2924.5" width="796.1000000000001" height="609.1999999999998" fill="#fff"/>
<rect x="930.8" y="2924.5" width="796.1000000000001" height="70.5" fill="#5b9bd5"/>
<g stroke="#1c1c1c" stroke-width="2.6" fill="none">
<line x1="930.8" y1="2924.5" x2="1726.9" y2="2924.5"/>
<line x1="930.8" y1="2995" x2="1726.9" y2="2995"/>
<line x1="930.8" y1="3079.8" x2="1726.9" y2="3079.8"/>
<line x1="930.8" y1="3162.2" x2="1726.9" y2="3162.2"/>
<line x1="930.8" y1="3232.7" x2="1726.9" y2="3232.7"/>
<line x1="930.8" y1="3303.8" x2="1726.9" y2="3303.8"/>
<line x1="930.8" y1="3375.4" x2="1726.9" y2="3375.4"/>
<line x1="930.8" y1="3446.5" x2="1726.9" y2="3446.5"/>
<line x1="930.8" y1="3533.7" x2="1726.9" y2="3533.7"/>
<line x1="930.8" y1="2923.2" x2="930.8" y2="3535.0"/>
<line x1="1308.2" y1="2923.2" x2="1308.2" y2="3535.0"/>
<line x1="1726.9" y1="2923.2" x2="1726.9" y2="3535.0"/>
</g>
<text x="1121.8" y="2950.2" text-anchor="middle" font-size="27" font-weight="bold" fill="#1a1a1a" style="font-family:'Liberation Sans',sans-serif;" textLength="175.7" lengthAdjust="spacingAndGlyphs">Formas clínicas</text>
<text x="1517.6" y="2950.2" text-anchor="middle" font-size="27" font-weight="bold" fill="#1a1a1a" style="font-family:'Liberation Sans',sans-serif;" textLength="146.3" lengthAdjust="spacingAndGlyphs">Casos Nº (%)</text>
<text x="948.7" y="3027.8" font-size="27" font-weight="bold" fill="#111" style="font-family:'Liberation Sans',sans-serif;" textLength="170.2" lengthAdjust="spacingAndGlyphs">Forma tifoidea</text>
<text x="1517.2" y="3027.8" text-anchor="middle" font-size="27" font-weight="bold" fill="#111" style="font-family:'Liberation Sans',sans-serif;" textLength="101.0" lengthAdjust="spacingAndGlyphs">58 (64%)</text>
<text x="948.7" y="3112.7" font-size="27" font-weight="bold" fill="#111" style="font-family:'Liberation Sans',sans-serif;" textLength="276.5" lengthAdjust="spacingAndGlyphs">Forma úlceroganglionar</text>
<text x="1517.2" y="3112.7" text-anchor="middle" font-size="27" font-weight="bold" fill="#111" style="font-family:'Liberation Sans',sans-serif;" textLength="101.0" lengthAdjust="spacingAndGlyphs">13 (14%)</text>
<text x="948.7" y="3189.1" font-size="27" font-weight="bold" fill="#111" style="font-family:'Liberation Sans',sans-serif;" textLength="209.6" lengthAdjust="spacingAndGlyphs">Forma neumónica</text>
<text x="1517.2" y="3189.1" text-anchor="middle" font-size="27" font-weight="bold" fill="#111" style="font-family:'Liberation Sans',sans-serif;" textLength="101.0" lengthAdjust="spacingAndGlyphs">10 (11%)</text>
<text x="948.7" y="3260.2" font-size="27" font-weight="bold" fill="#111" style="font-family:'Liberation Sans',sans-serif;" textLength="203.0" lengthAdjust="spacingAndGlyphs">Forma ganglionar</text>
<text x="1517.2" y="3260.2" text-anchor="middle" font-size="27" font-weight="bold" fill="#111" style="font-family:'Liberation Sans',sans-serif;" textLength="71.7" lengthAdjust="spacingAndGlyphs">6 (7%)</text>
<text x="948.7" y="3331.2" font-size="27" font-weight="bold" fill="#111" style="font-family:'Liberation Sans',sans-serif;" textLength="216.2" lengthAdjust="spacingAndGlyphs">Forma orofaríngea</text>
<text x="1517.2" y="3331.2" text-anchor="middle" font-size="27" font-weight="bold" fill="#111" style="font-family:'Liberation Sans',sans-serif;" textLength="71.7" lengthAdjust="spacingAndGlyphs">3 (3%)</text>
<text x="948.7" y="3402.3" font-size="27" font-weight="bold" fill="#111" style="font-family:'Liberation Sans',sans-serif;" textLength="189.3" lengthAdjust="spacingAndGlyphs">Forma intestinal</text>
<text x="1517.2" y="3402.3" text-anchor="middle" font-size="27" font-weight="bold" fill="#111" style="font-family:'Liberation Sans',sans-serif;" textLength="71.7" lengthAdjust="spacingAndGlyphs">1 (1%)</text>
<text x="948.7" y="3481.7" font-size="27" font-weight="bold" fill="#111" style="font-family:'Liberation Sans',sans-serif;" textLength="74.7" lengthAdjust="spacingAndGlyphs">TOTAL</text>
<text x="1517.2" y="3481.7" text-anchor="middle" font-size="27" font-weight="bold" fill="#111" style="font-family:'Liberation Sans',sans-serif;" textLength="115.3" lengthAdjust="spacingAndGlyphs">91 (100%)</text>
</g></svg>
<svg class="abs" style="left:1760px;top:2920px;" width="1100" height="620" viewBox="1760 2920 1100 620">
<g filter="url(#tb)">
<rect x="1785.7" y="2947.5" width="1044.4999999999998" height="560.4000000000001" fill="#fff"/>
<rect x="1785.7" y="2947.5" width="1044.4999999999998" height="80.19999999999982" fill="#5b9bd5"/>
<g stroke="#1c1c1c" stroke-width="2.6" fill="none">
<line x1="1785.7" y1="2947.5" x2="2830.2" y2="2947.5"/>
<line x1="1785.7" y1="3027.7" x2="2830.2" y2="3027.7"/>
<line x1="1785.7" y1="3107" x2="2830.2" y2="3107"/>
<line x1="1785.7" y1="3188" x2="2830.2" y2="3188"/>
<line x1="1785.7" y1="3269" x2="2830.2" y2="3269"/>
<line x1="1785.7" y1="3347.5" x2="2830.2" y2="3347.5"/>
<line x1="1785.7" y1="3428.5" x2="2830.2" y2="3428.5"/>
<line x1="1785.7" y1="3507.9" x2="2830.2" y2="3507.9"/>
<line x1="1785.7" y1="2946.2" x2="1785.7" y2="3509.2000000000003"/>
<line x1="2387.7" y1="2946.2" x2="2387.7" y2="3509.2000000000003"/>
<line x1="2830.2" y1="2946.2" x2="2830.2" y2="3509.2000000000003"/>
</g>
<text x="2087.9" y="2975.6" text-anchor="middle" font-size="30.5" font-weight="bold" fill="#1a1a1a" style="font-family:'Liberation Sans',sans-serif;" textLength="418.4" lengthAdjust="spacingAndGlyphs">Factores de riesgo de exposición</text>
<text x="2609.8" y="2975.6" text-anchor="middle" font-size="30.5" font-weight="bold" fill="#1a1a1a" style="font-family:'Liberation Sans',sans-serif;" textLength="163.5" lengthAdjust="spacingAndGlyphs">Casos Nº (%)</text>
<text x="1802.5" y="3056.6" font-size="30.5" font-weight="bold" fill="#111" style="font-family:'Liberation Sans',sans-serif;" textLength="104.2" lengthAdjust="spacingAndGlyphs">Agrícola</text>
<text x="2609.7" y="3056.6" text-anchor="middle" font-size="30.5" font-weight="bold" fill="#111" style="font-family:'Liberation Sans',sans-serif;" textLength="112.2" lengthAdjust="spacingAndGlyphs">28 (35%)</text>
<text x="1802.5" y="3135.9" font-size="30.5" font-weight="bold" fill="#111" style="font-family:'Liberation Sans',sans-serif;" textLength="127.5" lengthAdjust="spacingAndGlyphs">Jardinería</text>
<text x="2609.7" y="3135.9" text-anchor="middle" font-size="30.5" font-weight="bold" fill="#111" style="font-family:'Liberation Sans',sans-serif;" textLength="112.2" lengthAdjust="spacingAndGlyphs">23 (28%)</text>
<text x="1802.5" y="3216.9" font-size="30.5" font-weight="bold" fill="#111" style="font-family:'Liberation Sans',sans-serif;" textLength="183.6" lengthAdjust="spacingAndGlyphs">Hortofrutícola</text>
<text x="2609.7" y="3216.9" text-anchor="middle" font-size="30.5" font-weight="bold" fill="#111" style="font-family:'Liberation Sans',sans-serif;" textLength="112.2" lengthAdjust="spacingAndGlyphs">16 (20%)</text>
<text x="1802.5" y="3297.8" font-size="30.5" font-weight="bold" fill="#111" style="font-family:'Liberation Sans',sans-serif;" textLength="252.5" lengthAdjust="spacingAndGlyphs">Paseo por el campo</text>
<text x="2609.7" y="3297.8" text-anchor="middle" font-size="30.5" font-weight="bold" fill="#111" style="font-family:'Liberation Sans',sans-serif;" textLength="112.2" lengthAdjust="spacingAndGlyphs">11 (14%)</text>
<text x="1802.5" y="3377.2" font-size="30.5" font-weight="bold" fill="#111" style="font-family:'Liberation Sans',sans-serif;" textLength="88.2" lengthAdjust="spacingAndGlyphs">Piscina</text>
<text x="2609.7" y="3377.2" text-anchor="middle" font-size="30.5" font-weight="bold" fill="#111" style="font-family:'Liberation Sans',sans-serif;" textLength="80.0" lengthAdjust="spacingAndGlyphs">2 (3%)</text>
<text x="1802.5" y="3458.2" font-size="30.5" font-weight="bold" fill="#111" style="font-family:'Liberation Sans',sans-serif;" textLength="83.4" lengthAdjust="spacingAndGlyphs">TOTAL</text>
<text x="2609.7" y="3458.2" text-anchor="middle" font-size="30.5" font-weight="bold" fill="#111" style="font-family:'Liberation Sans',sans-serif;" textLength="128.0" lengthAdjust="spacingAndGlyphs">81 (100%)</text>
</g></svg>
<div class="ct" style="left:1116px;top:2832.9px;width:401px;font-size:27.6px;line-height:40px;">Formas clínicas</div>
<div class="ct" style="left:1946px;top:2844.4px;width:738px;font-size:27.6px;line-height:40px;">Factores de riesgo. Exposición medioambiental</div>
<svg class="abs" style="left:1200px;top:3540px;" width="1700" height="760" viewBox="1200 3540 1700 760">
<defs>
<radialGradient id="psh" cx="0.5" cy="0.5" r="0.5"><stop offset="0" stop-color="#5a9fb8" stop-opacity="0.85"/><stop offset="0.35" stop-color="#86b9ca" stop-opacity="0.6"/><stop offset="0.7" stop-color="#b5d3de" stop-opacity="0.3"/><stop offset="1" stop-color="#d8e8ee" stop-opacity="0"/></radialGradient>
<radialGradient id="vsh" cx="0.5" cy="0.5" r="0.5"><stop offset="0" stop-color="#9a9a9a" stop-opacity="0.55"/><stop offset="1" stop-color="#ccc" stop-opacity="0"/></radialGradient>
<radialGradient id="fur" cx="0.45" cy="0.35" r="0.75"><stop offset="0" stop-color="#c89a68"/><stop offset="0.55" stop-color="#a8743f"/><stop offset="1" stop-color="#6f4a28"/></radialGradient>
<radialGradient id="fur2" cx="0.5" cy="0.4" r="0.7"><stop offset="0" stop-color="#d2a878"/><stop offset="0.6" stop-color="#b5824e"/><stop offset="1" stop-color="#8a5c34"/></radialGradient>
<filter id="ib" x="-5%" y="-5%" width="110%" height="110%"><feGaussianBlur stdDeviation="0.6"/></filter>
<filter id="ib2" x="-10%" y="-10%" width="120%" height="120%"><feGaussianBlur stdDeviation="2.2"/></filter>
</defs>
<ellipse cx="1397" cy="3892" rx="122" ry="19" fill="url(#psh)"/>
<g fill="#05577f">
<circle cx="1397.05" cy="3612.2" r="23.9"/>
<path d="M1371.6,3646.8 L1422.5,3646.8 Q1428.1,3646.8 1428.1,3652.4 L1428.1,3844 A11.95,11.95 0 0 1 1404.2,3844 L1404.2,3763 L1389.9,3763 L1389.9,3844 A11.95,11.95 0 0 1 1366,3844 L1366,3652.4 Q1366,3646.8 1371.6,3646.8 Z"/>
<clipPath id="armc"><rect x="1290" y="3646.8" width="220" height="120"/></clipPath>
<g clip-path="url(#armc)"><path d="M1372.5,3653 L1320.2,3704.3" stroke="#05577f" stroke-width="24" stroke-linecap="round"/>
<path d="M1421.6,3653 L1473.9,3704.3" stroke="#05577f" stroke-width="24" stroke-linecap="round"/></g>
</g>
<g transform="translate(1720,3570) scale(0.20571)" filter="url(#ib)" stroke-linejoin="round" stroke-linecap="round">
<ellipse cx="720" cy="1702" rx="560" ry="38" fill="#dadada"/>
<path d="M90,700 Q110,520 230,420 Q330,340 420,330 Q560,150 900,130 Q1190,140 1370,340 Q1460,560 1445,800 Q1430,1050 1330,1230 Q1230,1380 1020,1392 Q760,1380 520,1290 Q300,1180 170,980 Q80,840 90,700 Z" fill="#a5c02c"/>
<path d="M360,1672 L360,1030 Q362,960 440,950 Q548,950 556,1075" fill="none" stroke="#24140e" stroke-width="62"/>
<path d="M360,1668 L360,1030 Q364,964 440,956 Q542,958 552,1070" fill="none" stroke="#8c5f4c" stroke-width="40"/>
<path d="M360,1660 L360,1040" fill="none" stroke="#6e463a" stroke-width="6"/>
<path d="M690,1040 L1145,1040 Q1125,1180 965,1290 L1065,1462 L885,1500 L805,1300 L835,1475 L662,1482 Q570,1250 690,1040 Z" fill="#9c9c9c" stroke="#24140e" stroke-width="11"/>
<path d="M800,1080 Q760,1200 805,1300 M1050,1080 Q1000,1200 900,1260" fill="none" stroke="#6f6f6f" stroke-width="7"/>
<path d="M652,1468 L838,1456 L845,1530 L660,1540 Z M880,1470 L1062,1448 L1080,1530 L900,1545 Z" fill="#7d7d7d" stroke="#24140e" stroke-width="11"/>
<path d="M468,1642 Q480,1545 610,1528 L760,1560 Q770,1600 762,1642 Z" fill="#8d5a3b" stroke="#24140e" stroke-width="11"/>
<path d="M708,1642 Q730,1560 860,1540 L1085,1550 Q1105,1600 1100,1642 Z" fill="#8d5a3b" stroke="#24140e" stroke-width="11"/>
<rect x="458" y="1640" width="245" height="42" rx="10" fill="#f6f6f6" stroke="#24140e" stroke-width="11"/><rect x="700" y="1640" width="415" height="44" rx="10" fill="#f6f6f6" stroke="#24140e" stroke-width="11"/>
<path d="M650,650 Q560,720 515,790 L560,830 L700,770 Z" fill="#f6a02e" stroke="#24140e" stroke-width="11"/>
<path d="M700,640 Q770,560 835,500 Q940,520 1010,620 Q1100,780 1162,990 Q1150,1040 1120,1055 Q900,1100 700,1040 Q640,900 660,760 Z" fill="#ef6610" stroke="#24140e" stroke-width="11"/>
<path d="M700,640 Q780,640 840,560" fill="none" stroke="#24140e" stroke-width="9"/>
<path d="M880,575 Q980,570 1015,610 Q1060,700 1040,740 L945,885 Q850,860 772,775 Q800,660 880,575 Z" fill="#f8a22f" stroke="#24140e" stroke-width="11"/>
<path d="M790,755 Q860,830 955,860" fill="none" stroke="#24140e" stroke-width="8"/>
<path d="M800,800 Q700,820 560,842 Q470,870 450,910 Q470,950 540,950 Q700,950 810,965 Q900,940 930,880 Q880,820 800,800 Z" fill="#f9c9a9" stroke="#24140e" stroke-width="11"/>
<path d="M405,880 Q400,820 470,800 Q530,790 555,830 Q570,870 530,890 Q470,910 440,905 Z" fill="#f9c9a9" stroke="#24140e" stroke-width="11"/>
<path d="M335,975 Q330,920 380,895 Q430,880 470,905 Q480,940 450,955 Q400,965 370,990 Z" fill="#f9c9a9" stroke="#24140e" stroke-width="11"/>
<path d="M440,815 Q430,850 445,885 M480,805 Q472,845 490,880 M372,905 Q362,940 372,975 M412,895 Q404,930 414,960" fill="none" stroke="#24140e" stroke-width="7"/>
<path d="M775,135 Q830,90 900,130 Q950,190 945,285 Q935,330 910,350 L820,335 Q800,230 775,135 Z" fill="#cdcdcd" stroke="#24140e" stroke-width="11"/>
<path d="M362,290 Q350,170 420,110 Q450,90 480,85 Q400,180 390,290 Z" fill="#cdcdcd" stroke="#24140e" stroke-width="11"/>
<path d="M362,330 Q370,120 560,58 Q760,40 820,230 Q850,340 820,470 Q780,600 660,640 Q520,660 430,560 Q360,470 362,330 Z" fill="#f9c9a9" stroke="#24140e" stroke-width="11"/>
<path d="M828,430 Q815,350 870,335 Q925,340 920,410 Q910,480 860,490 Z" fill="#f9c9a9" stroke="#24140e" stroke-width="11"/>
<path d="M850,440 Q845,390 880,375" fill="none" stroke="#c9845a" stroke-width="8"/>
<ellipse cx="405" cy="422" rx="42" ry="26" fill="#f29a80" opacity="0.85"/><ellipse cx="682" cy="426" rx="46" ry="28" fill="#f29a80" opacity="0.85"/>
<path d="M450,200 Q490,170 530,190 Q490,200 455,215 Z M610,200 Q660,180 710,215 Q660,215 615,220 Z" fill="#f6f6f6" stroke="#24140e" stroke-width="5"/>
<ellipse cx="492" cy="268" rx="15" ry="26" fill="#1a1212"/><ellipse cx="655" cy="282" rx="15" ry="26" fill="#1a1212"/>
<path d="M452,370 Q430,420 470,440 Q530,450 560,410" fill="#f9c9a9" stroke="#24140e" stroke-width="11"/>
<path d="M432,490 Q440,455 490,462 Q520,450 548,468 Q590,450 640,470 Q660,490 640,505 Q600,500 585,515 Q560,495 540,512 Q510,495 490,512 Q460,500 432,490 Z" fill="#f4f4f4" stroke="#24140e" stroke-width="11"/>
<path d="M520,520 Q560,500 612,510 Q610,560 560,572 Q535,560 520,520 Z" fill="#7a1f24" stroke="#24140e" stroke-width="11"/><path d="M545,555 Q580,535 606,540 Q600,565 562,570 Z" fill="#f08a7a"/>
<path d="M540,600 Q580,612 620,590" fill="none" stroke="#24140e" stroke-width="7"/>
<circle cx="445" cy="325" r="44" fill="#fff" fill-opacity="0.45" stroke="#ece4e0" stroke-width="13"/><circle cx="620" cy="345" r="42" fill="#fff" fill-opacity="0.45" stroke="#ece4e0" stroke-width="13"/>
<path d="M488,330 Q530,318 578,338 M662,345 L830,336 M402,315 L378,292" fill="none" stroke="#ece4e0" stroke-width="10"/>
<circle cx="445" cy="325" r="51" fill="none" stroke="#24140e" stroke-width="3"/><circle cx="620" cy="345" r="49" fill="none" stroke="#24140e" stroke-width="3"/>
</g>
<g transform="translate(2180,3580) scale(0.38487)" filter="url(#ib)" stroke-linejoin="round" stroke-linecap="round">
<rect x="102" y="65" width="1308" height="767" fill="#b9a0cf"/>
<ellipse cx="850" cy="680" rx="412" ry="38" fill="#7b4a24"/>
<path d="M880,680 Q960,630 1000,625 Q1060,640 1100,650 Q1160,625 1200,668 L1200,690 Z" fill="#8e5a2e"/>
<g fill="none" stroke="#ee5a72" stroke-width="6"><ellipse cx="345" cy="685" rx="125" ry="32"/><ellipse cx="345" cy="685" rx="98" ry="22"/><ellipse cx="345" cy="684" rx="70" ry="13"/>
<path d="M232,552 Q235,590 290,592 Q400,600 410,660"/><path d="M450,665 Q560,640 620,520 Q660,450 715,440"/></g>
<path d="M178,510 L225,510 Q242,512 242,530 L242,556 L220,556 L220,536 L178,536 Z" fill="#8b8b8b"/>
<g fill="#6dbd45">
<path d="M1030,215 Q1048,330 1062,480 L1075,660 L1050,660 Q1035,470 1025,330 Z"/>
<path d="M1142,210 Q1160,320 1150,470 L1130,662 L1105,662 Q1128,470 1135,330 Z"/>
<path d="M1030,330 Q990,285 940,290 Q985,300 1010,345 Z"/><path d="M1150,320 Q1195,275 1245,282 Q1200,295 1170,335 Z"/>
<path d="M1045,470 Q990,470 940,495 Q1000,500 1050,500 Z"/><path d="M1150,480 Q1210,465 1272,495 Q1210,495 1150,505 Z"/>
<path d="M1052,400 Q1075,350 1110,355 Q1140,380 1125,440 Q1112,395 1090,385 Q1070,400 1060,440 Z"/>
<path d="M1055,590 Q1000,540 935,560 Q985,575 1020,610 Z"/><path d="M1135,590 Q1180,535 1235,545 Q1195,560 1160,605 Z"/>
</g>
<g fill="#8fd24e"><ellipse cx="970" cy="575" rx="38" ry="18" transform="rotate(20 970 575)"/><ellipse cx="1060" cy="628" rx="40" ry="15" transform="rotate(-10 1060 628)"/><ellipse cx="1165" cy="598" rx="30" ry="12" transform="rotate(-15 1165 598)"/></g>
<path d="M520,600 L560,610 L550,660 Q570,690 565,702 L480,690 Q478,660 500,650 Z" fill="#8a5a34"/>
<path d="M615,592 L665,600 L660,650 Q690,672 690,690 L600,680 Q598,665 612,650 Z" fill="#8a5a34"/>
<path d="M560,270 Q590,250 640,262 L665,430 Q670,520 665,600 L615,592 L605,490 L560,610 L520,600 Q545,500 552,430 Z" fill="#f2cb3b"/>
<path d="M590,290 Q625,275 650,300 L735,385 L712,415 L640,365 L632,355 L585,355 Z" fill="#fafafa"/>
<path d="M590,265 L605,262 L600,330 L585,335 Z M640,268 L652,270 L660,330 L648,332 Z" fill="#d9b02a"/>
<path d="M712,385 Q745,370 770,395 Q775,420 740,428 Q735,445 715,448 Q690,430 672,405 Z" fill="#8a4a2a"/>
<path d="M735,405 L790,395 L815,392 L818,412 L795,414 L740,425 Z" fill="#7d7d85"/>
<path d="M822,400 Q900,395 940,470 Q950,500 935,520 Q925,470 900,445 Q870,415 822,410 Z" fill="#86d2ee"/>
<circle cx="665" cy="235" r="30" fill="#f5b99a"/>
<path d="M632,232 Q640,195 680,190 Q712,195 712,215 Q690,222 668,212 Q650,225 640,240 Z" fill="#1d1a1a"/>
<path d="M595,232 Q600,190 625,165 Q660,145 695,158 Q715,170 718,182 Q680,185 640,205 Q615,225 610,238 Z" fill="#ead0a2"/>
</g>
<g transform="translate(1260,3940) scale(0.26543)">
<defs>
<radialGradient id="vbody" cx="0.45" cy="0.25" r="0.85"><stop offset="0" stop-color="#8a5a2c"/><stop offset="0.4" stop-color="#9c6834"/><stop offset="0.7" stop-color="#bb8850"/><stop offset="0.9" stop-color="#d9b080"/><stop offset="1" stop-color="#ead2b0"/></radialGradient>
<radialGradient id="vhead" cx="0.5" cy="0.35" r="0.75"><stop offset="0" stop-color="#9a6c40"/><stop offset="0.5" stop-color="#b07e4c"/><stop offset="0.82" stop-color="#d0a678"/><stop offset="1" stop-color="#efe2d2"/></radialGradient>
<filter id="furn" x="-5%" y="-5%" width="110%" height="110%"><feTurbulence type="fractalNoise" baseFrequency="0.035 0.09" numOctaves="3" seed="7" result="n"/><feColorMatrix in="n" type="matrix" values="0 0 0 0 0.25  0 0 0 0 0.14  0 0 0 0 0.05  0 0 0 -2.2 1.25" result="d"/><feComposite in="d" in2="SourceGraphic" operator="in"/></filter>
<filter id="vb1" x="-10%" y="-10%" width="120%" height="120%"><feGaussianBlur stdDeviation="14"/></filter>
<filter id="vb2" x="-10%" y="-10%" width="120%" height="120%"><feGaussianBlur stdDeviation="6"/></filter>
</defs>
<ellipse cx="760" cy="1050" rx="520" ry="60" fill="#ececee" filter="url(#vb1)"/>
<g filter="url(#vb2)">
<path d="M820,1000 L930,1010 L950,1100 L830,1095 Z M1090,1000 L1170,990 L1190,1100 L1085,1100 Z" fill="#c9a27e"/>
<ellipse cx="440" cy="960" rx="95" ry="45" fill="#9a5f3c"/><ellipse cx="885" cy="1100" rx="75" ry="38" fill="#b9775a"/><ellipse cx="1135" cy="1110" rx="65" ry="36" fill="#c98a6e"/>
<path d="M190,640 Q170,420 380,270 Q600,150 860,215 Q1120,300 1200,520 Q1260,800 1100,940 Q900,1040 620,1000 Q330,960 240,820 Q195,740 190,640 Z" fill="url(#vbody)"/>
<ellipse cx="330" cy="860" rx="90" ry="40" fill="#f3ebe0"/>
<path d="M640,700 Q640,440 900,380 Q1150,370 1260,560 Q1340,740 1270,880 Q1180,1030 960,1040 Q740,1030 670,880 Q640,800 640,700 Z" fill="url(#vhead)"/>
<path d="M700,560 Q800,400 960,400 Q1120,400 1200,540 Q1100,470 960,480 Q800,480 700,560 Z" fill="#946638" opacity="0.55"/>
<ellipse cx="745" cy="455" rx="82" ry="88" fill="#b58458"/><ellipse cx="1165" cy="450" rx="72" ry="84" fill="#c59868"/>
<ellipse cx="752" cy="470" rx="42" ry="52" fill="#8f6440"/><ellipse cx="1172" cy="468" rx="38" ry="50" fill="#d8a888"/>
<ellipse cx="960" cy="985" rx="240" ry="62" fill="#f8f3ee"/>
<ellipse cx="960" cy="900" rx="150" ry="60" fill="#dcc0a0" opacity="0.7"/>
</g>
<g filter="url(#furn)" opacity="0.5"><path d="M200,640 Q180,430 390,280 Q600,165 860,228 Q1120,310 1195,520 Q1250,800 1095,930 Q900,1030 620,990 Q335,950 248,815 Q205,740 200,640 Z" fill="#000"/><path d="M650,700 Q650,450 900,392 Q1145,382 1250,565 Q1328,740 1260,875 Q1175,960 960,960 Q745,960 680,875 Q650,800 650,700 Z" fill="#000"/></g>
<g filter="url(#ib)"><ellipse cx="838" cy="652" rx="31" ry="34" fill="#0e0c0c"/><ellipse cx="1088" cy="660" rx="27" ry="32" fill="#0e0c0c"/><ellipse cx="970" cy="868" rx="34" ry="26" fill="#cf8a8a"/><circle cx="828" cy="640" r="7" fill="#fff"/><circle cx="1080" cy="648" r="6" fill="#fff"/>
<path d="M905,940 Q960,925 1010,940" stroke="#b89a8a" stroke-width="5" fill="none"/></g>
</g>
<g transform="translate(1900,3920) scale(0.39814)" filter="url(#ib)" stroke-linejoin="round">
<path d="M175,420 Q170,300 260,230 Q300,180 350,185 Q380,130 460,135 Q500,40 600,50 Q680,70 700,110 Q740,90 800,110 Q850,50 940,60 Q1020,90 1035,160 Q1100,130 1160,160 Q1200,200 1205,225 Q1270,190 1330,230 Q1360,300 1340,420 L1340,620 L175,620 Z" fill="#dcedf9"/>
<path d="M110,620 Q120,560 160,530 Q170,470 230,450 Q280,440 300,470 L300,620 Z" fill="#93ad4e"/>
<path d="M295,440 Q300,380 360,370 Q400,340 450,345 Q460,300 510,300 Q545,310 555,335 Q590,340 600,370 L640,440 Z" fill="#7e9a3c"/>
<path d="M920,420 Q930,385 980,385 Q1010,370 1040,395 Q1090,380 1130,400 Q1150,420 1140,450 Z" fill="#7e9a3c"/>
<path d="M110,620 Q200,420 420,370 Q620,350 760,470 L820,620 Z" fill="#9ab657"/>
<path d="M560,620 Q700,430 960,420 Q1200,440 1370,620 Z" fill="#b7cd6c"/>
<path d="M110,620 Q250,480 520,420 Q330,440 110,620 Z" fill="#86a446"/>
<rect x="93" y="500" width="12" height="122" fill="#8a3a3a"/><path d="M97,222 Q150,330 145,470 Q130,540 95,530 Q50,500 52,420 Q60,310 97,222 Z" fill="#90a83e"/>
<rect x="1360" y="480" width="14" height="142" fill="#8a3a3a"/><path d="M1368,178 Q1425,280 1420,440 Q1410,520 1372,520 Q1325,500 1322,400 Q1330,270 1368,178 Z" fill="#9db244"/>
<rect x="1283" y="520" width="18" height="102" fill="#8a3a3a"/><path d="M1290,338 Q1350,360 1355,460 Q1350,555 1295,560 Q1235,550 1230,460 Q1240,360 1290,338 Z" fill="#8a9c36"/>
<path d="M80,622 L1375,622 Q1380,660 1300,690 Q1200,720 1000,730 Q800,735 640,728 Q500,750 380,742 Q250,720 170,690 Q90,670 80,622 Z" fill="#b86552"/>
<g fill="none" stroke="#9a4a3c" stroke-width="4"><path d="M130,650 q20,-12 40,0 t40,0"/><path d="M380,700 q20,-12 40,0 t40,0"/><path d="M640,660 q20,-12 40,0 t40,0"/><path d="M900,680 q20,-12 40,0 t40,0 t40,0"/><path d="M1040,700 q20,-12 40,0 t40,0"/><path d="M230,665 q20,-12 40,0 t40,0"/><path d="M740,700 q20,-12 40,0 t40,0"/><path d="M1210,680 q20,-12 40,0"/></g>
<path d="M930,560 L1250,578" stroke="#3a3a44" stroke-width="5"/>
<polygon points="1146,477 1138,552 1201,511 1147,563 1222,572 1146,578 1198,633 1137,588 1141,664 1123,590 1077,651 1111,583 1037,600 1106,569 1039,535 1111,556 1082,487 1124,549" fill="#a9a6d6"/>
<circle cx="1127" cy="570" r="17" fill="#3a3a44"/><circle cx="1127" cy="570" r="8" fill="#888"/>
<polygon points="1261,511 1255,565 1300,536 1261,573 1315,580 1261,583 1298,623 1254,591 1257,645 1244,593 1212,636 1235,587 1183,600 1232,578 1184,553 1236,568 1215,518 1245,563" fill="#a9a6d6"/>
<circle cx="1247" cy="578" r="13" fill="#3a3a44"/><circle cx="1247" cy="578" r="6" fill="#888"/>
<path d="M612,378 Q612,368 622,370 L632,380 L632,460 L616,460 L616,392 Z" fill="#2e2e36"/>
<path d="M215,600 L352,552 L345,622 Z" fill="#2b2b30"/>
<path d="M405,432 L440,436 L600,488 L630,500 L625,520 L455,468 L425,470 L358,618 L335,612 Z" fill="#e8665a"/>
<path d="M432,462 L490,545" stroke="#2e2e36" stroke-width="6"/>
<path d="M480,520 Q520,470 620,462 L700,448 L740,450 L930,470 Q945,500 935,560 L935,600 L600,600 L480,560 Z" fill="#e65a4a"/>
<rect x="620" y="572" width="130" height="28" fill="#3a3440"/>
<path d="M685,325 L918,325 L915,348 L690,348 Z" fill="#e04a3c"/>
<path d="M695,348 L905,348 L925,470 L680,462 Z" fill="#e65a4a"/>
<path d="M708,360 L770,360 L768,452 L690,448 Z" fill="#4a8fe0"/><path d="M790,360 L885,360 L910,455 L790,452 Z" fill="#4a8fe0"/>
<path d="M720,400 L760,370 M800,420 L860,368 M805,440 L870,385" stroke="#8fc0f2" stroke-width="5"/>
<path d="M655,498 L655,608 M710,498 L710,608 M655,515 L710,515 M655,545 L710,545 M655,575 L710,575 M655,605 L710,605" stroke="#3a3440" stroke-width="5" fill="none"/>
<path d="M725,560 Q740,450 835,448 Q925,455 940,560 L920,520 Q880,470 830,470 Q770,480 740,540 Z" fill="#ee6a5a"/>
<circle cx="830" cy="572" r="102" fill="#34343a"/><circle cx="830" cy="572" r="62" fill="#5a5a62"/><circle cx="830" cy="572" r="30" fill="#7c7c84"/>
<circle cx="530" cy="598" r="72" fill="#34343a"/><circle cx="530" cy="598" r="42" fill="#5a5a62"/><circle cx="530" cy="598" r="18" fill="#7c7c84"/>
<circle cx="830" cy="572" r="102" fill="none" stroke="#2a2a30" stroke-width="10" stroke-dasharray="14 10"/><circle cx="530" cy="598" r="72" fill="none" stroke="#2a2a30" stroke-width="9" stroke-dasharray="12 9"/>
</g>
</svg>
<svg class="abs" style="left:179px;top:4330px;" width="2677" height="122"><rect x="1.40" y="1.20" width="2673" height="118.6" fill="#1e70b8"/></svg>
<div class="abs" style="left:1354.5px;top:4366.9px;font-size:43.5px;line-height:52.20px;letter-spacing:0.054px;white-space:nowrap;color:#fff;font-weight:bold;">Conclusiones</div>
<div class="ln" style="left:182px;top:4504.7px;width:2667.5px;">Existe un asentamiento endémico de la bacteria <i>Francisella tularensis</i> en la provincia de Palencia, capaz de producir brotes epidémicos periódicos</div>
<div class="ln" style="left:182px;top:4547.9px;width:2667.5px;">coincidiendo con la sobrepoblación de alguno de sus hospedadores, en particular, roedores de campo. Se continuará con la vigilancia de la</div>
<div class="ln" style="left:182px;top:4591.1px;width:2667.5px;">enfermedad a nivel clínico, epidemiológico y ambiental, especialmente, en zonas sensibles como la comarca de Tierra de Campos. Es preciso</div>
<div class="ln" style="left:182px;top:4634.3px;width:2667.5px;">mantener las recomendaciones preventivas dirigidas a aquellas personas con profesiones que tienen exposición medioambiental. Es esencial la</div>
<div class="ln" style="left:182px;top:4677.5px;width:2667.5px;">colaboración entre los profesionales de Salud Pública y el sistema asistencial (Atención Especializada y Atención Primaria) para el estudio de</div>
<div class="ln last" style="left:182px;top:4720.7px;width:2667.5px;">brotes epidémicos.</div>
</body></html>
